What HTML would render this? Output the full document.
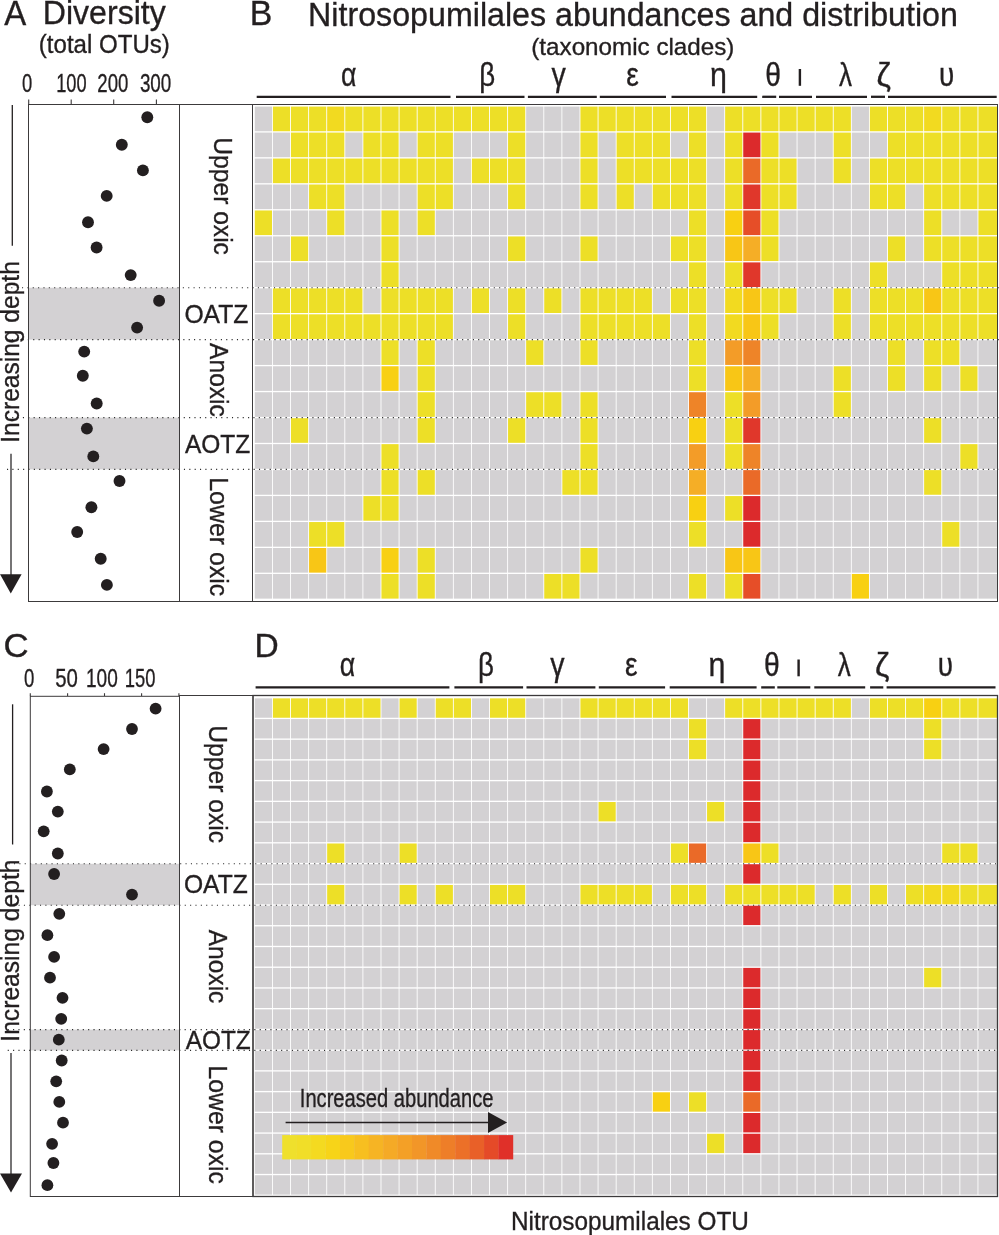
<!DOCTYPE html><html><head><meta charset="utf-8"><style>html,body{margin:0;padding:0;background:#fff;overflow:hidden;}svg{display:block;will-change:transform;}</style></head><body>
<svg width="999" height="1235" viewBox="0 0 999 1235" font-family="'Liberation Sans', sans-serif">
<rect width="999" height="1235" fill="#fff"/>
<text x="4.30" y="25.10" font-size="34.5" textLength="22.01" lengthAdjust="spacingAndGlyphs" fill="#231f20" stroke="#231f20" stroke-width="0.35">A</text>
<text x="42.80" y="24.00" font-size="34" textLength="122.96" lengthAdjust="spacingAndGlyphs" fill="#231f20" stroke="#231f20" stroke-width="0.35">Diversity</text>
<text x="38.80" y="52.80" font-size="25.3" textLength="131.02" lengthAdjust="spacingAndGlyphs" fill="#231f20" stroke="#231f20" stroke-width="0.35">(total OTUs)</text>
<text x="249.80" y="25.10" font-size="34.5" textLength="22.55" lengthAdjust="spacingAndGlyphs" fill="#231f20" stroke="#231f20" stroke-width="0.35">B</text>
<text x="308.10" y="25.80" font-size="34" textLength="649.81" lengthAdjust="spacingAndGlyphs" fill="#231f20" stroke="#231f20" stroke-width="0.35">Nitrosopumilales abundances and distribution</text>
<text x="531.30" y="54.50" font-size="24.3" textLength="203.10" lengthAdjust="spacingAndGlyphs" fill="#231f20" stroke="#231f20" stroke-width="0.35">(taxonomic clades)</text>
<line x1="256.7" y1="96.8" x2="450.5" y2="96.8" stroke="#231f20" stroke-width="2.3"/>
<line x1="456" y1="96.8" x2="524.5" y2="96.8" stroke="#231f20" stroke-width="2.3"/>
<line x1="527.9" y1="96.8" x2="596.8" y2="96.8" stroke="#231f20" stroke-width="2.3"/>
<line x1="599.8" y1="96.8" x2="666" y2="96.8" stroke="#231f20" stroke-width="2.3"/>
<line x1="671.5" y1="96.8" x2="757.2" y2="96.8" stroke="#231f20" stroke-width="2.3"/>
<line x1="762.2" y1="96.8" x2="776.2" y2="96.8" stroke="#231f20" stroke-width="2.3"/>
<line x1="779" y1="96.8" x2="812" y2="96.8" stroke="#231f20" stroke-width="2.3"/>
<line x1="816" y1="96.8" x2="867" y2="96.8" stroke="#231f20" stroke-width="2.3"/>
<line x1="871" y1="96.8" x2="885" y2="96.8" stroke="#231f20" stroke-width="2.3"/>
<line x1="888" y1="96.8" x2="996.7" y2="96.8" stroke="#231f20" stroke-width="2.3"/>
<text x="341.00" y="85.80" font-size="32.5" textLength="15.48" lengthAdjust="spacingAndGlyphs" fill="#231f20" stroke="#231f20" stroke-width="0.35">α</text>
<text x="479.20" y="85.80" font-size="32.5" textLength="15.93" lengthAdjust="spacingAndGlyphs" fill="#231f20" stroke="#231f20" stroke-width="0.35">β</text>
<text x="551.50" y="85.80" font-size="32.5" textLength="14.32" lengthAdjust="spacingAndGlyphs" fill="#231f20" stroke="#231f20" stroke-width="0.35">γ</text>
<text x="626.30" y="85.80" font-size="32.5" textLength="12.52" lengthAdjust="spacingAndGlyphs" fill="#231f20" stroke="#231f20" stroke-width="0.35">ε</text>
<text x="709.90" y="85.80" font-size="32.5" textLength="16.92" lengthAdjust="spacingAndGlyphs" fill="#231f20" stroke="#231f20" stroke-width="0.35">η</text>
<text x="765.20" y="85.80" font-size="32.5" textLength="15.67" lengthAdjust="spacingAndGlyphs" fill="#231f20" stroke="#231f20" stroke-width="0.35">θ</text>
<text x="839.00" y="85.80" font-size="32.5" textLength="13.00" lengthAdjust="spacingAndGlyphs" fill="#231f20" stroke="#231f20" stroke-width="0.35">λ</text>
<text x="876.40" y="85.80" font-size="32.5" textLength="14.34" lengthAdjust="spacingAndGlyphs" fill="#231f20" stroke="#231f20" stroke-width="0.35">ζ</text>
<text x="939.00" y="85.80" font-size="32.5" textLength="15.24" lengthAdjust="spacingAndGlyphs" fill="#231f20" stroke="#231f20" stroke-width="0.35">υ</text>
<rect x="798.70" y="69.00" width="2.4" height="16.8" fill="#231f20"/>
<rect x="28.7" y="287.7" width="150.5" height="51.9" fill="#d3d1d3"/>
<rect x="28.7" y="417.6" width="150.5" height="51.8" fill="#d3d1d3"/>
<rect x="254.80" y="106.60" width="17.20" height="24.65" fill="#d3d1d3"/>
<rect x="272.89" y="106.60" width="17.20" height="24.65" fill="#eddf27"/>
<rect x="290.98" y="106.60" width="17.20" height="24.65" fill="#eddf27"/>
<rect x="309.07" y="106.60" width="17.20" height="24.65" fill="#eddf27"/>
<rect x="327.16" y="106.60" width="17.20" height="24.65" fill="#f2da20"/>
<rect x="345.25" y="106.60" width="17.20" height="24.65" fill="#eddf27"/>
<rect x="363.34" y="106.60" width="17.20" height="24.65" fill="#eddf27"/>
<rect x="381.43" y="106.60" width="17.20" height="24.65" fill="#eddf27"/>
<rect x="399.52" y="106.60" width="17.20" height="24.65" fill="#eddf27"/>
<rect x="417.61" y="106.60" width="17.20" height="24.65" fill="#eddf27"/>
<rect x="435.70" y="106.60" width="17.20" height="24.65" fill="#eddf27"/>
<rect x="453.79" y="106.60" width="17.20" height="24.65" fill="#eddf27"/>
<rect x="471.88" y="106.60" width="17.20" height="24.65" fill="#eddf27"/>
<rect x="489.97" y="106.60" width="17.20" height="24.65" fill="#eddf27"/>
<rect x="508.06" y="106.60" width="17.20" height="24.65" fill="#eddf27"/>
<rect x="526.15" y="106.60" width="17.20" height="24.65" fill="#d3d1d3"/>
<rect x="544.24" y="106.60" width="17.20" height="24.65" fill="#d3d1d3"/>
<rect x="562.33" y="106.60" width="17.20" height="24.65" fill="#d3d1d3"/>
<rect x="580.42" y="106.60" width="17.20" height="24.65" fill="#eddf27"/>
<rect x="598.51" y="106.60" width="17.20" height="24.65" fill="#eddf27"/>
<rect x="616.60" y="106.60" width="17.20" height="24.65" fill="#eddf27"/>
<rect x="634.69" y="106.60" width="17.20" height="24.65" fill="#eddf27"/>
<rect x="652.78" y="106.60" width="17.20" height="24.65" fill="#eddf27"/>
<rect x="670.87" y="106.60" width="17.20" height="24.65" fill="#eddf27"/>
<rect x="688.96" y="106.60" width="17.20" height="24.65" fill="#eddf27"/>
<rect x="707.05" y="106.60" width="17.20" height="24.65" fill="#d3d1d3"/>
<rect x="725.14" y="106.60" width="17.20" height="24.65" fill="#eddf27"/>
<rect x="743.23" y="106.60" width="17.20" height="24.65" fill="#eddf27"/>
<rect x="761.32" y="106.60" width="17.20" height="24.65" fill="#eddf27"/>
<rect x="779.41" y="106.60" width="17.20" height="24.65" fill="#eddf27"/>
<rect x="797.50" y="106.60" width="17.20" height="24.65" fill="#eddf27"/>
<rect x="815.59" y="106.60" width="17.20" height="24.65" fill="#eddf27"/>
<rect x="833.68" y="106.60" width="17.20" height="24.65" fill="#eddf27"/>
<rect x="851.77" y="106.60" width="17.20" height="24.65" fill="#d3d1d3"/>
<rect x="869.86" y="106.60" width="17.20" height="24.65" fill="#eddf27"/>
<rect x="887.95" y="106.60" width="17.20" height="24.65" fill="#eddf27"/>
<rect x="906.04" y="106.60" width="17.20" height="24.65" fill="#eddf27"/>
<rect x="924.13" y="106.60" width="17.20" height="24.65" fill="#f2da20"/>
<rect x="942.22" y="106.60" width="17.20" height="24.65" fill="#eddf27"/>
<rect x="960.31" y="106.60" width="17.20" height="24.65" fill="#eddf27"/>
<rect x="978.40" y="106.60" width="18.80" height="24.65" fill="#eddf27"/>
<rect x="254.80" y="132.56" width="17.20" height="24.65" fill="#d3d1d3"/>
<rect x="272.89" y="132.56" width="17.20" height="24.65" fill="#d3d1d3"/>
<rect x="290.98" y="132.56" width="17.20" height="24.65" fill="#eddf27"/>
<rect x="309.07" y="132.56" width="17.20" height="24.65" fill="#eddf27"/>
<rect x="327.16" y="132.56" width="17.20" height="24.65" fill="#eddf27"/>
<rect x="345.25" y="132.56" width="17.20" height="24.65" fill="#d3d1d3"/>
<rect x="363.34" y="132.56" width="17.20" height="24.65" fill="#eddf27"/>
<rect x="381.43" y="132.56" width="17.20" height="24.65" fill="#eddf27"/>
<rect x="399.52" y="132.56" width="17.20" height="24.65" fill="#d3d1d3"/>
<rect x="417.61" y="132.56" width="17.20" height="24.65" fill="#eddf27"/>
<rect x="435.70" y="132.56" width="17.20" height="24.65" fill="#eddf27"/>
<rect x="453.79" y="132.56" width="17.20" height="24.65" fill="#d3d1d3"/>
<rect x="471.88" y="132.56" width="17.20" height="24.65" fill="#d3d1d3"/>
<rect x="489.97" y="132.56" width="17.20" height="24.65" fill="#d3d1d3"/>
<rect x="508.06" y="132.56" width="17.20" height="24.65" fill="#eddf27"/>
<rect x="526.15" y="132.56" width="17.20" height="24.65" fill="#d3d1d3"/>
<rect x="544.24" y="132.56" width="17.20" height="24.65" fill="#d3d1d3"/>
<rect x="562.33" y="132.56" width="17.20" height="24.65" fill="#d3d1d3"/>
<rect x="580.42" y="132.56" width="17.20" height="24.65" fill="#eddf27"/>
<rect x="598.51" y="132.56" width="17.20" height="24.65" fill="#d3d1d3"/>
<rect x="616.60" y="132.56" width="17.20" height="24.65" fill="#eddf27"/>
<rect x="634.69" y="132.56" width="17.20" height="24.65" fill="#eddf27"/>
<rect x="652.78" y="132.56" width="17.20" height="24.65" fill="#eddf27"/>
<rect x="670.87" y="132.56" width="17.20" height="24.65" fill="#d3d1d3"/>
<rect x="688.96" y="132.56" width="17.20" height="24.65" fill="#eddf27"/>
<rect x="707.05" y="132.56" width="17.20" height="24.65" fill="#d3d1d3"/>
<rect x="725.14" y="132.56" width="17.20" height="24.65" fill="#eddf27"/>
<rect x="743.23" y="132.56" width="17.20" height="24.65" fill="#dc2a2c"/>
<rect x="761.32" y="132.56" width="17.20" height="24.65" fill="#eddf27"/>
<rect x="779.41" y="132.56" width="17.20" height="24.65" fill="#d3d1d3"/>
<rect x="797.50" y="132.56" width="17.20" height="24.65" fill="#d3d1d3"/>
<rect x="815.59" y="132.56" width="17.20" height="24.65" fill="#d3d1d3"/>
<rect x="833.68" y="132.56" width="17.20" height="24.65" fill="#eddf27"/>
<rect x="851.77" y="132.56" width="17.20" height="24.65" fill="#d3d1d3"/>
<rect x="869.86" y="132.56" width="17.20" height="24.65" fill="#d3d1d3"/>
<rect x="887.95" y="132.56" width="17.20" height="24.65" fill="#eddf27"/>
<rect x="906.04" y="132.56" width="17.20" height="24.65" fill="#eddf27"/>
<rect x="924.13" y="132.56" width="17.20" height="24.65" fill="#eddf27"/>
<rect x="942.22" y="132.56" width="17.20" height="24.65" fill="#eddf27"/>
<rect x="960.31" y="132.56" width="17.20" height="24.65" fill="#eddf27"/>
<rect x="978.40" y="132.56" width="18.80" height="24.65" fill="#eddf27"/>
<rect x="254.80" y="158.53" width="17.20" height="24.65" fill="#d3d1d3"/>
<rect x="272.89" y="158.53" width="17.20" height="24.65" fill="#eddf27"/>
<rect x="290.98" y="158.53" width="17.20" height="24.65" fill="#eddf27"/>
<rect x="309.07" y="158.53" width="17.20" height="24.65" fill="#eddf27"/>
<rect x="327.16" y="158.53" width="17.20" height="24.65" fill="#eddf27"/>
<rect x="345.25" y="158.53" width="17.20" height="24.65" fill="#eddf27"/>
<rect x="363.34" y="158.53" width="17.20" height="24.65" fill="#eddf27"/>
<rect x="381.43" y="158.53" width="17.20" height="24.65" fill="#eddf27"/>
<rect x="399.52" y="158.53" width="17.20" height="24.65" fill="#eddf27"/>
<rect x="417.61" y="158.53" width="17.20" height="24.65" fill="#eddf27"/>
<rect x="435.70" y="158.53" width="17.20" height="24.65" fill="#eddf27"/>
<rect x="453.79" y="158.53" width="17.20" height="24.65" fill="#d3d1d3"/>
<rect x="471.88" y="158.53" width="17.20" height="24.65" fill="#eddf27"/>
<rect x="489.97" y="158.53" width="17.20" height="24.65" fill="#eddf27"/>
<rect x="508.06" y="158.53" width="17.20" height="24.65" fill="#eddf27"/>
<rect x="526.15" y="158.53" width="17.20" height="24.65" fill="#d3d1d3"/>
<rect x="544.24" y="158.53" width="17.20" height="24.65" fill="#d3d1d3"/>
<rect x="562.33" y="158.53" width="17.20" height="24.65" fill="#d3d1d3"/>
<rect x="580.42" y="158.53" width="17.20" height="24.65" fill="#eddf27"/>
<rect x="598.51" y="158.53" width="17.20" height="24.65" fill="#d3d1d3"/>
<rect x="616.60" y="158.53" width="17.20" height="24.65" fill="#eddf27"/>
<rect x="634.69" y="158.53" width="17.20" height="24.65" fill="#eddf27"/>
<rect x="652.78" y="158.53" width="17.20" height="24.65" fill="#eddf27"/>
<rect x="670.87" y="158.53" width="17.20" height="24.65" fill="#eddf27"/>
<rect x="688.96" y="158.53" width="17.20" height="24.65" fill="#eddf27"/>
<rect x="707.05" y="158.53" width="17.20" height="24.65" fill="#d3d1d3"/>
<rect x="725.14" y="158.53" width="17.20" height="24.65" fill="#eddf27"/>
<rect x="743.23" y="158.53" width="17.20" height="24.65" fill="#ea6a28"/>
<rect x="761.32" y="158.53" width="17.20" height="24.65" fill="#eddf27"/>
<rect x="779.41" y="158.53" width="17.20" height="24.65" fill="#eddf27"/>
<rect x="797.50" y="158.53" width="17.20" height="24.65" fill="#d3d1d3"/>
<rect x="815.59" y="158.53" width="17.20" height="24.65" fill="#d3d1d3"/>
<rect x="833.68" y="158.53" width="17.20" height="24.65" fill="#eddf27"/>
<rect x="851.77" y="158.53" width="17.20" height="24.65" fill="#d3d1d3"/>
<rect x="869.86" y="158.53" width="17.20" height="24.65" fill="#eddf27"/>
<rect x="887.95" y="158.53" width="17.20" height="24.65" fill="#eddf27"/>
<rect x="906.04" y="158.53" width="17.20" height="24.65" fill="#eddf27"/>
<rect x="924.13" y="158.53" width="17.20" height="24.65" fill="#eddf27"/>
<rect x="942.22" y="158.53" width="17.20" height="24.65" fill="#eddf27"/>
<rect x="960.31" y="158.53" width="17.20" height="24.65" fill="#eddf27"/>
<rect x="978.40" y="158.53" width="18.80" height="24.65" fill="#eddf27"/>
<rect x="254.80" y="184.50" width="17.20" height="24.65" fill="#d3d1d3"/>
<rect x="272.89" y="184.50" width="17.20" height="24.65" fill="#d3d1d3"/>
<rect x="290.98" y="184.50" width="17.20" height="24.65" fill="#d3d1d3"/>
<rect x="309.07" y="184.50" width="17.20" height="24.65" fill="#eddf27"/>
<rect x="327.16" y="184.50" width="17.20" height="24.65" fill="#eddf27"/>
<rect x="345.25" y="184.50" width="17.20" height="24.65" fill="#d3d1d3"/>
<rect x="363.34" y="184.50" width="17.20" height="24.65" fill="#d3d1d3"/>
<rect x="381.43" y="184.50" width="17.20" height="24.65" fill="#d3d1d3"/>
<rect x="399.52" y="184.50" width="17.20" height="24.65" fill="#d3d1d3"/>
<rect x="417.61" y="184.50" width="17.20" height="24.65" fill="#eddf27"/>
<rect x="435.70" y="184.50" width="17.20" height="24.65" fill="#eddf27"/>
<rect x="453.79" y="184.50" width="17.20" height="24.65" fill="#d3d1d3"/>
<rect x="471.88" y="184.50" width="17.20" height="24.65" fill="#d3d1d3"/>
<rect x="489.97" y="184.50" width="17.20" height="24.65" fill="#d3d1d3"/>
<rect x="508.06" y="184.50" width="17.20" height="24.65" fill="#eddf27"/>
<rect x="526.15" y="184.50" width="17.20" height="24.65" fill="#d3d1d3"/>
<rect x="544.24" y="184.50" width="17.20" height="24.65" fill="#d3d1d3"/>
<rect x="562.33" y="184.50" width="17.20" height="24.65" fill="#d3d1d3"/>
<rect x="580.42" y="184.50" width="17.20" height="24.65" fill="#eddf27"/>
<rect x="598.51" y="184.50" width="17.20" height="24.65" fill="#d3d1d3"/>
<rect x="616.60" y="184.50" width="17.20" height="24.65" fill="#eddf27"/>
<rect x="634.69" y="184.50" width="17.20" height="24.65" fill="#d3d1d3"/>
<rect x="652.78" y="184.50" width="17.20" height="24.65" fill="#eddf27"/>
<rect x="670.87" y="184.50" width="17.20" height="24.65" fill="#eddf27"/>
<rect x="688.96" y="184.50" width="17.20" height="24.65" fill="#eddf27"/>
<rect x="707.05" y="184.50" width="17.20" height="24.65" fill="#d3d1d3"/>
<rect x="725.14" y="184.50" width="17.20" height="24.65" fill="#eddf27"/>
<rect x="743.23" y="184.50" width="17.20" height="24.65" fill="#e0372b"/>
<rect x="761.32" y="184.50" width="17.20" height="24.65" fill="#eddf27"/>
<rect x="779.41" y="184.50" width="17.20" height="24.65" fill="#eddf27"/>
<rect x="797.50" y="184.50" width="17.20" height="24.65" fill="#d3d1d3"/>
<rect x="815.59" y="184.50" width="17.20" height="24.65" fill="#d3d1d3"/>
<rect x="833.68" y="184.50" width="17.20" height="24.65" fill="#d3d1d3"/>
<rect x="851.77" y="184.50" width="17.20" height="24.65" fill="#d3d1d3"/>
<rect x="869.86" y="184.50" width="17.20" height="24.65" fill="#eddf27"/>
<rect x="887.95" y="184.50" width="17.20" height="24.65" fill="#eddf27"/>
<rect x="906.04" y="184.50" width="17.20" height="24.65" fill="#d3d1d3"/>
<rect x="924.13" y="184.50" width="17.20" height="24.65" fill="#eddf27"/>
<rect x="942.22" y="184.50" width="17.20" height="24.65" fill="#eddf27"/>
<rect x="960.31" y="184.50" width="17.20" height="24.65" fill="#eddf27"/>
<rect x="978.40" y="184.50" width="18.80" height="24.65" fill="#eddf27"/>
<rect x="254.80" y="210.46" width="17.20" height="24.65" fill="#eddf27"/>
<rect x="272.89" y="210.46" width="17.20" height="24.65" fill="#d3d1d3"/>
<rect x="290.98" y="210.46" width="17.20" height="24.65" fill="#d3d1d3"/>
<rect x="309.07" y="210.46" width="17.20" height="24.65" fill="#d3d1d3"/>
<rect x="327.16" y="210.46" width="17.20" height="24.65" fill="#eddf27"/>
<rect x="345.25" y="210.46" width="17.20" height="24.65" fill="#d3d1d3"/>
<rect x="363.34" y="210.46" width="17.20" height="24.65" fill="#d3d1d3"/>
<rect x="381.43" y="210.46" width="17.20" height="24.65" fill="#eddf27"/>
<rect x="399.52" y="210.46" width="17.20" height="24.65" fill="#d3d1d3"/>
<rect x="417.61" y="210.46" width="17.20" height="24.65" fill="#eddf27"/>
<rect x="435.70" y="210.46" width="17.20" height="24.65" fill="#d3d1d3"/>
<rect x="453.79" y="210.46" width="17.20" height="24.65" fill="#d3d1d3"/>
<rect x="471.88" y="210.46" width="17.20" height="24.65" fill="#d3d1d3"/>
<rect x="489.97" y="210.46" width="17.20" height="24.65" fill="#d3d1d3"/>
<rect x="508.06" y="210.46" width="17.20" height="24.65" fill="#d3d1d3"/>
<rect x="526.15" y="210.46" width="17.20" height="24.65" fill="#d3d1d3"/>
<rect x="544.24" y="210.46" width="17.20" height="24.65" fill="#d3d1d3"/>
<rect x="562.33" y="210.46" width="17.20" height="24.65" fill="#d3d1d3"/>
<rect x="580.42" y="210.46" width="17.20" height="24.65" fill="#d3d1d3"/>
<rect x="598.51" y="210.46" width="17.20" height="24.65" fill="#d3d1d3"/>
<rect x="616.60" y="210.46" width="17.20" height="24.65" fill="#d3d1d3"/>
<rect x="634.69" y="210.46" width="17.20" height="24.65" fill="#d3d1d3"/>
<rect x="652.78" y="210.46" width="17.20" height="24.65" fill="#d3d1d3"/>
<rect x="670.87" y="210.46" width="17.20" height="24.65" fill="#d3d1d3"/>
<rect x="688.96" y="210.46" width="17.20" height="24.65" fill="#eddf27"/>
<rect x="707.05" y="210.46" width="17.20" height="24.65" fill="#d3d1d3"/>
<rect x="725.14" y="210.46" width="17.20" height="24.65" fill="#f8d012"/>
<rect x="743.23" y="210.46" width="17.20" height="24.65" fill="#e64e28"/>
<rect x="761.32" y="210.46" width="17.20" height="24.65" fill="#eddf27"/>
<rect x="779.41" y="210.46" width="17.20" height="24.65" fill="#d3d1d3"/>
<rect x="797.50" y="210.46" width="17.20" height="24.65" fill="#d3d1d3"/>
<rect x="815.59" y="210.46" width="17.20" height="24.65" fill="#d3d1d3"/>
<rect x="833.68" y="210.46" width="17.20" height="24.65" fill="#d3d1d3"/>
<rect x="851.77" y="210.46" width="17.20" height="24.65" fill="#d3d1d3"/>
<rect x="869.86" y="210.46" width="17.20" height="24.65" fill="#d3d1d3"/>
<rect x="887.95" y="210.46" width="17.20" height="24.65" fill="#d3d1d3"/>
<rect x="906.04" y="210.46" width="17.20" height="24.65" fill="#d3d1d3"/>
<rect x="924.13" y="210.46" width="17.20" height="24.65" fill="#eddf27"/>
<rect x="942.22" y="210.46" width="17.20" height="24.65" fill="#d3d1d3"/>
<rect x="960.31" y="210.46" width="17.20" height="24.65" fill="#d3d1d3"/>
<rect x="978.40" y="210.46" width="18.80" height="24.65" fill="#eddf27"/>
<rect x="254.80" y="236.42" width="17.20" height="24.65" fill="#d3d1d3"/>
<rect x="272.89" y="236.42" width="17.20" height="24.65" fill="#d3d1d3"/>
<rect x="290.98" y="236.42" width="17.20" height="24.65" fill="#eddf27"/>
<rect x="309.07" y="236.42" width="17.20" height="24.65" fill="#d3d1d3"/>
<rect x="327.16" y="236.42" width="17.20" height="24.65" fill="#d3d1d3"/>
<rect x="345.25" y="236.42" width="17.20" height="24.65" fill="#d3d1d3"/>
<rect x="363.34" y="236.42" width="17.20" height="24.65" fill="#d3d1d3"/>
<rect x="381.43" y="236.42" width="17.20" height="24.65" fill="#eddf27"/>
<rect x="399.52" y="236.42" width="17.20" height="24.65" fill="#d3d1d3"/>
<rect x="417.61" y="236.42" width="17.20" height="24.65" fill="#d3d1d3"/>
<rect x="435.70" y="236.42" width="17.20" height="24.65" fill="#d3d1d3"/>
<rect x="453.79" y="236.42" width="17.20" height="24.65" fill="#d3d1d3"/>
<rect x="471.88" y="236.42" width="17.20" height="24.65" fill="#d3d1d3"/>
<rect x="489.97" y="236.42" width="17.20" height="24.65" fill="#d3d1d3"/>
<rect x="508.06" y="236.42" width="17.20" height="24.65" fill="#eddf27"/>
<rect x="526.15" y="236.42" width="17.20" height="24.65" fill="#d3d1d3"/>
<rect x="544.24" y="236.42" width="17.20" height="24.65" fill="#d3d1d3"/>
<rect x="562.33" y="236.42" width="17.20" height="24.65" fill="#d3d1d3"/>
<rect x="580.42" y="236.42" width="17.20" height="24.65" fill="#eddf27"/>
<rect x="598.51" y="236.42" width="17.20" height="24.65" fill="#d3d1d3"/>
<rect x="616.60" y="236.42" width="17.20" height="24.65" fill="#d3d1d3"/>
<rect x="634.69" y="236.42" width="17.20" height="24.65" fill="#d3d1d3"/>
<rect x="652.78" y="236.42" width="17.20" height="24.65" fill="#d3d1d3"/>
<rect x="670.87" y="236.42" width="17.20" height="24.65" fill="#eddf27"/>
<rect x="688.96" y="236.42" width="17.20" height="24.65" fill="#eddf27"/>
<rect x="707.05" y="236.42" width="17.20" height="24.65" fill="#d3d1d3"/>
<rect x="725.14" y="236.42" width="17.20" height="24.65" fill="#f8c616"/>
<rect x="743.23" y="236.42" width="17.20" height="24.65" fill="#f5ae26"/>
<rect x="761.32" y="236.42" width="17.20" height="24.65" fill="#eddf27"/>
<rect x="779.41" y="236.42" width="17.20" height="24.65" fill="#d3d1d3"/>
<rect x="797.50" y="236.42" width="17.20" height="24.65" fill="#d3d1d3"/>
<rect x="815.59" y="236.42" width="17.20" height="24.65" fill="#d3d1d3"/>
<rect x="833.68" y="236.42" width="17.20" height="24.65" fill="#d3d1d3"/>
<rect x="851.77" y="236.42" width="17.20" height="24.65" fill="#d3d1d3"/>
<rect x="869.86" y="236.42" width="17.20" height="24.65" fill="#d3d1d3"/>
<rect x="887.95" y="236.42" width="17.20" height="24.65" fill="#eddf27"/>
<rect x="906.04" y="236.42" width="17.20" height="24.65" fill="#d3d1d3"/>
<rect x="924.13" y="236.42" width="17.20" height="24.65" fill="#eddf27"/>
<rect x="942.22" y="236.42" width="17.20" height="24.65" fill="#eddf27"/>
<rect x="960.31" y="236.42" width="17.20" height="24.65" fill="#eddf27"/>
<rect x="978.40" y="236.42" width="18.80" height="24.65" fill="#eddf27"/>
<rect x="254.80" y="262.39" width="17.20" height="24.65" fill="#d3d1d3"/>
<rect x="272.89" y="262.39" width="17.20" height="24.65" fill="#d3d1d3"/>
<rect x="290.98" y="262.39" width="17.20" height="24.65" fill="#d3d1d3"/>
<rect x="309.07" y="262.39" width="17.20" height="24.65" fill="#d3d1d3"/>
<rect x="327.16" y="262.39" width="17.20" height="24.65" fill="#d3d1d3"/>
<rect x="345.25" y="262.39" width="17.20" height="24.65" fill="#d3d1d3"/>
<rect x="363.34" y="262.39" width="17.20" height="24.65" fill="#d3d1d3"/>
<rect x="381.43" y="262.39" width="17.20" height="24.65" fill="#eddf27"/>
<rect x="399.52" y="262.39" width="17.20" height="24.65" fill="#d3d1d3"/>
<rect x="417.61" y="262.39" width="17.20" height="24.65" fill="#d3d1d3"/>
<rect x="435.70" y="262.39" width="17.20" height="24.65" fill="#d3d1d3"/>
<rect x="453.79" y="262.39" width="17.20" height="24.65" fill="#d3d1d3"/>
<rect x="471.88" y="262.39" width="17.20" height="24.65" fill="#d3d1d3"/>
<rect x="489.97" y="262.39" width="17.20" height="24.65" fill="#d3d1d3"/>
<rect x="508.06" y="262.39" width="17.20" height="24.65" fill="#d3d1d3"/>
<rect x="526.15" y="262.39" width="17.20" height="24.65" fill="#d3d1d3"/>
<rect x="544.24" y="262.39" width="17.20" height="24.65" fill="#d3d1d3"/>
<rect x="562.33" y="262.39" width="17.20" height="24.65" fill="#d3d1d3"/>
<rect x="580.42" y="262.39" width="17.20" height="24.65" fill="#d3d1d3"/>
<rect x="598.51" y="262.39" width="17.20" height="24.65" fill="#d3d1d3"/>
<rect x="616.60" y="262.39" width="17.20" height="24.65" fill="#d3d1d3"/>
<rect x="634.69" y="262.39" width="17.20" height="24.65" fill="#d3d1d3"/>
<rect x="652.78" y="262.39" width="17.20" height="24.65" fill="#d3d1d3"/>
<rect x="670.87" y="262.39" width="17.20" height="24.65" fill="#d3d1d3"/>
<rect x="688.96" y="262.39" width="17.20" height="24.65" fill="#eddf27"/>
<rect x="707.05" y="262.39" width="17.20" height="24.65" fill="#d3d1d3"/>
<rect x="725.14" y="262.39" width="17.20" height="24.65" fill="#eddf27"/>
<rect x="743.23" y="262.39" width="17.20" height="24.65" fill="#e0372b"/>
<rect x="761.32" y="262.39" width="17.20" height="24.65" fill="#d3d1d3"/>
<rect x="779.41" y="262.39" width="17.20" height="24.65" fill="#d3d1d3"/>
<rect x="797.50" y="262.39" width="17.20" height="24.65" fill="#d3d1d3"/>
<rect x="815.59" y="262.39" width="17.20" height="24.65" fill="#d3d1d3"/>
<rect x="833.68" y="262.39" width="17.20" height="24.65" fill="#d3d1d3"/>
<rect x="851.77" y="262.39" width="17.20" height="24.65" fill="#d3d1d3"/>
<rect x="869.86" y="262.39" width="17.20" height="24.65" fill="#eddf27"/>
<rect x="887.95" y="262.39" width="17.20" height="24.65" fill="#d3d1d3"/>
<rect x="906.04" y="262.39" width="17.20" height="24.65" fill="#d3d1d3"/>
<rect x="924.13" y="262.39" width="17.20" height="24.65" fill="#d3d1d3"/>
<rect x="942.22" y="262.39" width="17.20" height="24.65" fill="#eddf27"/>
<rect x="960.31" y="262.39" width="17.20" height="24.65" fill="#eddf27"/>
<rect x="978.40" y="262.39" width="18.80" height="24.65" fill="#eddf27"/>
<rect x="254.80" y="288.36" width="17.20" height="24.65" fill="#d3d1d3"/>
<rect x="272.89" y="288.36" width="17.20" height="24.65" fill="#eddf27"/>
<rect x="290.98" y="288.36" width="17.20" height="24.65" fill="#eddf27"/>
<rect x="309.07" y="288.36" width="17.20" height="24.65" fill="#eddf27"/>
<rect x="327.16" y="288.36" width="17.20" height="24.65" fill="#eddf27"/>
<rect x="345.25" y="288.36" width="17.20" height="24.65" fill="#eddf27"/>
<rect x="363.34" y="288.36" width="17.20" height="24.65" fill="#d3d1d3"/>
<rect x="381.43" y="288.36" width="17.20" height="24.65" fill="#eddf27"/>
<rect x="399.52" y="288.36" width="17.20" height="24.65" fill="#eddf27"/>
<rect x="417.61" y="288.36" width="17.20" height="24.65" fill="#eddf27"/>
<rect x="435.70" y="288.36" width="17.20" height="24.65" fill="#eddf27"/>
<rect x="453.79" y="288.36" width="17.20" height="24.65" fill="#d3d1d3"/>
<rect x="471.88" y="288.36" width="17.20" height="24.65" fill="#eddf27"/>
<rect x="489.97" y="288.36" width="17.20" height="24.65" fill="#d3d1d3"/>
<rect x="508.06" y="288.36" width="17.20" height="24.65" fill="#eddf27"/>
<rect x="526.15" y="288.36" width="17.20" height="24.65" fill="#d3d1d3"/>
<rect x="544.24" y="288.36" width="17.20" height="24.65" fill="#eddf27"/>
<rect x="562.33" y="288.36" width="17.20" height="24.65" fill="#d3d1d3"/>
<rect x="580.42" y="288.36" width="17.20" height="24.65" fill="#eddf27"/>
<rect x="598.51" y="288.36" width="17.20" height="24.65" fill="#eddf27"/>
<rect x="616.60" y="288.36" width="17.20" height="24.65" fill="#eddf27"/>
<rect x="634.69" y="288.36" width="17.20" height="24.65" fill="#eddf27"/>
<rect x="652.78" y="288.36" width="17.20" height="24.65" fill="#d3d1d3"/>
<rect x="670.87" y="288.36" width="17.20" height="24.65" fill="#eddf27"/>
<rect x="688.96" y="288.36" width="17.20" height="24.65" fill="#eddf27"/>
<rect x="707.05" y="288.36" width="17.20" height="24.65" fill="#d3d1d3"/>
<rect x="725.14" y="288.36" width="17.20" height="24.65" fill="#f2da20"/>
<rect x="743.23" y="288.36" width="17.20" height="24.65" fill="#f8c616"/>
<rect x="761.32" y="288.36" width="17.20" height="24.65" fill="#eddf27"/>
<rect x="779.41" y="288.36" width="17.20" height="24.65" fill="#eddf27"/>
<rect x="797.50" y="288.36" width="17.20" height="24.65" fill="#d3d1d3"/>
<rect x="815.59" y="288.36" width="17.20" height="24.65" fill="#d3d1d3"/>
<rect x="833.68" y="288.36" width="17.20" height="24.65" fill="#eddf27"/>
<rect x="851.77" y="288.36" width="17.20" height="24.65" fill="#d3d1d3"/>
<rect x="869.86" y="288.36" width="17.20" height="24.65" fill="#eddf27"/>
<rect x="887.95" y="288.36" width="17.20" height="24.65" fill="#eddf27"/>
<rect x="906.04" y="288.36" width="17.20" height="24.65" fill="#eddf27"/>
<rect x="924.13" y="288.36" width="17.20" height="24.65" fill="#f8c616"/>
<rect x="942.22" y="288.36" width="17.20" height="24.65" fill="#eddf27"/>
<rect x="960.31" y="288.36" width="17.20" height="24.65" fill="#eddf27"/>
<rect x="978.40" y="288.36" width="18.80" height="24.65" fill="#eddf27"/>
<rect x="254.80" y="314.32" width="17.20" height="24.65" fill="#d3d1d3"/>
<rect x="272.89" y="314.32" width="17.20" height="24.65" fill="#eddf27"/>
<rect x="290.98" y="314.32" width="17.20" height="24.65" fill="#eddf27"/>
<rect x="309.07" y="314.32" width="17.20" height="24.65" fill="#eddf27"/>
<rect x="327.16" y="314.32" width="17.20" height="24.65" fill="#eddf27"/>
<rect x="345.25" y="314.32" width="17.20" height="24.65" fill="#eddf27"/>
<rect x="363.34" y="314.32" width="17.20" height="24.65" fill="#eddf27"/>
<rect x="381.43" y="314.32" width="17.20" height="24.65" fill="#eddf27"/>
<rect x="399.52" y="314.32" width="17.20" height="24.65" fill="#eddf27"/>
<rect x="417.61" y="314.32" width="17.20" height="24.65" fill="#eddf27"/>
<rect x="435.70" y="314.32" width="17.20" height="24.65" fill="#eddf27"/>
<rect x="453.79" y="314.32" width="17.20" height="24.65" fill="#d3d1d3"/>
<rect x="471.88" y="314.32" width="17.20" height="24.65" fill="#d3d1d3"/>
<rect x="489.97" y="314.32" width="17.20" height="24.65" fill="#d3d1d3"/>
<rect x="508.06" y="314.32" width="17.20" height="24.65" fill="#eddf27"/>
<rect x="526.15" y="314.32" width="17.20" height="24.65" fill="#d3d1d3"/>
<rect x="544.24" y="314.32" width="17.20" height="24.65" fill="#d3d1d3"/>
<rect x="562.33" y="314.32" width="17.20" height="24.65" fill="#d3d1d3"/>
<rect x="580.42" y="314.32" width="17.20" height="24.65" fill="#eddf27"/>
<rect x="598.51" y="314.32" width="17.20" height="24.65" fill="#eddf27"/>
<rect x="616.60" y="314.32" width="17.20" height="24.65" fill="#eddf27"/>
<rect x="634.69" y="314.32" width="17.20" height="24.65" fill="#eddf27"/>
<rect x="652.78" y="314.32" width="17.20" height="24.65" fill="#eddf27"/>
<rect x="670.87" y="314.32" width="17.20" height="24.65" fill="#d3d1d3"/>
<rect x="688.96" y="314.32" width="17.20" height="24.65" fill="#eddf27"/>
<rect x="707.05" y="314.32" width="17.20" height="24.65" fill="#d3d1d3"/>
<rect x="725.14" y="314.32" width="17.20" height="24.65" fill="#f2da20"/>
<rect x="743.23" y="314.32" width="17.20" height="24.65" fill="#f8c616"/>
<rect x="761.32" y="314.32" width="17.20" height="24.65" fill="#eddf27"/>
<rect x="779.41" y="314.32" width="17.20" height="24.65" fill="#d3d1d3"/>
<rect x="797.50" y="314.32" width="17.20" height="24.65" fill="#d3d1d3"/>
<rect x="815.59" y="314.32" width="17.20" height="24.65" fill="#d3d1d3"/>
<rect x="833.68" y="314.32" width="17.20" height="24.65" fill="#eddf27"/>
<rect x="851.77" y="314.32" width="17.20" height="24.65" fill="#d3d1d3"/>
<rect x="869.86" y="314.32" width="17.20" height="24.65" fill="#eddf27"/>
<rect x="887.95" y="314.32" width="17.20" height="24.65" fill="#eddf27"/>
<rect x="906.04" y="314.32" width="17.20" height="24.65" fill="#eddf27"/>
<rect x="924.13" y="314.32" width="17.20" height="24.65" fill="#eddf27"/>
<rect x="942.22" y="314.32" width="17.20" height="24.65" fill="#eddf27"/>
<rect x="960.31" y="314.32" width="17.20" height="24.65" fill="#eddf27"/>
<rect x="978.40" y="314.32" width="18.80" height="24.65" fill="#eddf27"/>
<rect x="254.80" y="340.28" width="17.20" height="24.65" fill="#d3d1d3"/>
<rect x="272.89" y="340.28" width="17.20" height="24.65" fill="#d3d1d3"/>
<rect x="290.98" y="340.28" width="17.20" height="24.65" fill="#d3d1d3"/>
<rect x="309.07" y="340.28" width="17.20" height="24.65" fill="#d3d1d3"/>
<rect x="327.16" y="340.28" width="17.20" height="24.65" fill="#d3d1d3"/>
<rect x="345.25" y="340.28" width="17.20" height="24.65" fill="#d3d1d3"/>
<rect x="363.34" y="340.28" width="17.20" height="24.65" fill="#d3d1d3"/>
<rect x="381.43" y="340.28" width="17.20" height="24.65" fill="#eddf27"/>
<rect x="399.52" y="340.28" width="17.20" height="24.65" fill="#d3d1d3"/>
<rect x="417.61" y="340.28" width="17.20" height="24.65" fill="#eddf27"/>
<rect x="435.70" y="340.28" width="17.20" height="24.65" fill="#d3d1d3"/>
<rect x="453.79" y="340.28" width="17.20" height="24.65" fill="#d3d1d3"/>
<rect x="471.88" y="340.28" width="17.20" height="24.65" fill="#d3d1d3"/>
<rect x="489.97" y="340.28" width="17.20" height="24.65" fill="#d3d1d3"/>
<rect x="508.06" y="340.28" width="17.20" height="24.65" fill="#d3d1d3"/>
<rect x="526.15" y="340.28" width="17.20" height="24.65" fill="#eddf27"/>
<rect x="544.24" y="340.28" width="17.20" height="24.65" fill="#d3d1d3"/>
<rect x="562.33" y="340.28" width="17.20" height="24.65" fill="#d3d1d3"/>
<rect x="580.42" y="340.28" width="17.20" height="24.65" fill="#eddf27"/>
<rect x="598.51" y="340.28" width="17.20" height="24.65" fill="#d3d1d3"/>
<rect x="616.60" y="340.28" width="17.20" height="24.65" fill="#d3d1d3"/>
<rect x="634.69" y="340.28" width="17.20" height="24.65" fill="#d3d1d3"/>
<rect x="652.78" y="340.28" width="17.20" height="24.65" fill="#d3d1d3"/>
<rect x="670.87" y="340.28" width="17.20" height="24.65" fill="#d3d1d3"/>
<rect x="688.96" y="340.28" width="17.20" height="24.65" fill="#eddf27"/>
<rect x="707.05" y="340.28" width="17.20" height="24.65" fill="#d3d1d3"/>
<rect x="725.14" y="340.28" width="17.20" height="24.65" fill="#f39c28"/>
<rect x="743.23" y="340.28" width="17.20" height="24.65" fill="#ee8428"/>
<rect x="761.32" y="340.28" width="17.20" height="24.65" fill="#d3d1d3"/>
<rect x="779.41" y="340.28" width="17.20" height="24.65" fill="#d3d1d3"/>
<rect x="797.50" y="340.28" width="17.20" height="24.65" fill="#d3d1d3"/>
<rect x="815.59" y="340.28" width="17.20" height="24.65" fill="#d3d1d3"/>
<rect x="833.68" y="340.28" width="17.20" height="24.65" fill="#d3d1d3"/>
<rect x="851.77" y="340.28" width="17.20" height="24.65" fill="#d3d1d3"/>
<rect x="869.86" y="340.28" width="17.20" height="24.65" fill="#d3d1d3"/>
<rect x="887.95" y="340.28" width="17.20" height="24.65" fill="#eddf27"/>
<rect x="906.04" y="340.28" width="17.20" height="24.65" fill="#d3d1d3"/>
<rect x="924.13" y="340.28" width="17.20" height="24.65" fill="#eddf27"/>
<rect x="942.22" y="340.28" width="17.20" height="24.65" fill="#eddf27"/>
<rect x="960.31" y="340.28" width="17.20" height="24.65" fill="#d3d1d3"/>
<rect x="978.40" y="340.28" width="18.80" height="24.65" fill="#d3d1d3"/>
<rect x="254.80" y="366.25" width="17.20" height="24.65" fill="#d3d1d3"/>
<rect x="272.89" y="366.25" width="17.20" height="24.65" fill="#d3d1d3"/>
<rect x="290.98" y="366.25" width="17.20" height="24.65" fill="#d3d1d3"/>
<rect x="309.07" y="366.25" width="17.20" height="24.65" fill="#d3d1d3"/>
<rect x="327.16" y="366.25" width="17.20" height="24.65" fill="#d3d1d3"/>
<rect x="345.25" y="366.25" width="17.20" height="24.65" fill="#d3d1d3"/>
<rect x="363.34" y="366.25" width="17.20" height="24.65" fill="#d3d1d3"/>
<rect x="381.43" y="366.25" width="17.20" height="24.65" fill="#f8d012"/>
<rect x="399.52" y="366.25" width="17.20" height="24.65" fill="#d3d1d3"/>
<rect x="417.61" y="366.25" width="17.20" height="24.65" fill="#eddf27"/>
<rect x="435.70" y="366.25" width="17.20" height="24.65" fill="#d3d1d3"/>
<rect x="453.79" y="366.25" width="17.20" height="24.65" fill="#d3d1d3"/>
<rect x="471.88" y="366.25" width="17.20" height="24.65" fill="#d3d1d3"/>
<rect x="489.97" y="366.25" width="17.20" height="24.65" fill="#d3d1d3"/>
<rect x="508.06" y="366.25" width="17.20" height="24.65" fill="#d3d1d3"/>
<rect x="526.15" y="366.25" width="17.20" height="24.65" fill="#d3d1d3"/>
<rect x="544.24" y="366.25" width="17.20" height="24.65" fill="#d3d1d3"/>
<rect x="562.33" y="366.25" width="17.20" height="24.65" fill="#d3d1d3"/>
<rect x="580.42" y="366.25" width="17.20" height="24.65" fill="#d3d1d3"/>
<rect x="598.51" y="366.25" width="17.20" height="24.65" fill="#d3d1d3"/>
<rect x="616.60" y="366.25" width="17.20" height="24.65" fill="#d3d1d3"/>
<rect x="634.69" y="366.25" width="17.20" height="24.65" fill="#d3d1d3"/>
<rect x="652.78" y="366.25" width="17.20" height="24.65" fill="#d3d1d3"/>
<rect x="670.87" y="366.25" width="17.20" height="24.65" fill="#d3d1d3"/>
<rect x="688.96" y="366.25" width="17.20" height="24.65" fill="#eddf27"/>
<rect x="707.05" y="366.25" width="17.20" height="24.65" fill="#d3d1d3"/>
<rect x="725.14" y="366.25" width="17.20" height="24.65" fill="#f8c616"/>
<rect x="743.23" y="366.25" width="17.20" height="24.65" fill="#f5ae26"/>
<rect x="761.32" y="366.25" width="17.20" height="24.65" fill="#d3d1d3"/>
<rect x="779.41" y="366.25" width="17.20" height="24.65" fill="#d3d1d3"/>
<rect x="797.50" y="366.25" width="17.20" height="24.65" fill="#d3d1d3"/>
<rect x="815.59" y="366.25" width="17.20" height="24.65" fill="#d3d1d3"/>
<rect x="833.68" y="366.25" width="17.20" height="24.65" fill="#eddf27"/>
<rect x="851.77" y="366.25" width="17.20" height="24.65" fill="#d3d1d3"/>
<rect x="869.86" y="366.25" width="17.20" height="24.65" fill="#d3d1d3"/>
<rect x="887.95" y="366.25" width="17.20" height="24.65" fill="#eddf27"/>
<rect x="906.04" y="366.25" width="17.20" height="24.65" fill="#d3d1d3"/>
<rect x="924.13" y="366.25" width="17.20" height="24.65" fill="#eddf27"/>
<rect x="942.22" y="366.25" width="17.20" height="24.65" fill="#d3d1d3"/>
<rect x="960.31" y="366.25" width="17.20" height="24.65" fill="#eddf27"/>
<rect x="978.40" y="366.25" width="18.80" height="24.65" fill="#d3d1d3"/>
<rect x="254.80" y="392.22" width="17.20" height="24.65" fill="#d3d1d3"/>
<rect x="272.89" y="392.22" width="17.20" height="24.65" fill="#d3d1d3"/>
<rect x="290.98" y="392.22" width="17.20" height="24.65" fill="#d3d1d3"/>
<rect x="309.07" y="392.22" width="17.20" height="24.65" fill="#d3d1d3"/>
<rect x="327.16" y="392.22" width="17.20" height="24.65" fill="#d3d1d3"/>
<rect x="345.25" y="392.22" width="17.20" height="24.65" fill="#d3d1d3"/>
<rect x="363.34" y="392.22" width="17.20" height="24.65" fill="#d3d1d3"/>
<rect x="381.43" y="392.22" width="17.20" height="24.65" fill="#d3d1d3"/>
<rect x="399.52" y="392.22" width="17.20" height="24.65" fill="#d3d1d3"/>
<rect x="417.61" y="392.22" width="17.20" height="24.65" fill="#eddf27"/>
<rect x="435.70" y="392.22" width="17.20" height="24.65" fill="#d3d1d3"/>
<rect x="453.79" y="392.22" width="17.20" height="24.65" fill="#d3d1d3"/>
<rect x="471.88" y="392.22" width="17.20" height="24.65" fill="#d3d1d3"/>
<rect x="489.97" y="392.22" width="17.20" height="24.65" fill="#d3d1d3"/>
<rect x="508.06" y="392.22" width="17.20" height="24.65" fill="#d3d1d3"/>
<rect x="526.15" y="392.22" width="17.20" height="24.65" fill="#eddf27"/>
<rect x="544.24" y="392.22" width="17.20" height="24.65" fill="#eddf27"/>
<rect x="562.33" y="392.22" width="17.20" height="24.65" fill="#d3d1d3"/>
<rect x="580.42" y="392.22" width="17.20" height="24.65" fill="#eddf27"/>
<rect x="598.51" y="392.22" width="17.20" height="24.65" fill="#d3d1d3"/>
<rect x="616.60" y="392.22" width="17.20" height="24.65" fill="#d3d1d3"/>
<rect x="634.69" y="392.22" width="17.20" height="24.65" fill="#d3d1d3"/>
<rect x="652.78" y="392.22" width="17.20" height="24.65" fill="#d3d1d3"/>
<rect x="670.87" y="392.22" width="17.20" height="24.65" fill="#d3d1d3"/>
<rect x="688.96" y="392.22" width="17.20" height="24.65" fill="#ee8428"/>
<rect x="707.05" y="392.22" width="17.20" height="24.65" fill="#d3d1d3"/>
<rect x="725.14" y="392.22" width="17.20" height="24.65" fill="#eddf27"/>
<rect x="743.23" y="392.22" width="17.20" height="24.65" fill="#f39c28"/>
<rect x="761.32" y="392.22" width="17.20" height="24.65" fill="#d3d1d3"/>
<rect x="779.41" y="392.22" width="17.20" height="24.65" fill="#d3d1d3"/>
<rect x="797.50" y="392.22" width="17.20" height="24.65" fill="#d3d1d3"/>
<rect x="815.59" y="392.22" width="17.20" height="24.65" fill="#d3d1d3"/>
<rect x="833.68" y="392.22" width="17.20" height="24.65" fill="#eddf27"/>
<rect x="851.77" y="392.22" width="17.20" height="24.65" fill="#d3d1d3"/>
<rect x="869.86" y="392.22" width="17.20" height="24.65" fill="#d3d1d3"/>
<rect x="887.95" y="392.22" width="17.20" height="24.65" fill="#d3d1d3"/>
<rect x="906.04" y="392.22" width="17.20" height="24.65" fill="#d3d1d3"/>
<rect x="924.13" y="392.22" width="17.20" height="24.65" fill="#d3d1d3"/>
<rect x="942.22" y="392.22" width="17.20" height="24.65" fill="#d3d1d3"/>
<rect x="960.31" y="392.22" width="17.20" height="24.65" fill="#d3d1d3"/>
<rect x="978.40" y="392.22" width="18.80" height="24.65" fill="#d3d1d3"/>
<rect x="254.80" y="418.18" width="17.20" height="24.65" fill="#d3d1d3"/>
<rect x="272.89" y="418.18" width="17.20" height="24.65" fill="#d3d1d3"/>
<rect x="290.98" y="418.18" width="17.20" height="24.65" fill="#eddf27"/>
<rect x="309.07" y="418.18" width="17.20" height="24.65" fill="#d3d1d3"/>
<rect x="327.16" y="418.18" width="17.20" height="24.65" fill="#d3d1d3"/>
<rect x="345.25" y="418.18" width="17.20" height="24.65" fill="#d3d1d3"/>
<rect x="363.34" y="418.18" width="17.20" height="24.65" fill="#d3d1d3"/>
<rect x="381.43" y="418.18" width="17.20" height="24.65" fill="#d3d1d3"/>
<rect x="399.52" y="418.18" width="17.20" height="24.65" fill="#d3d1d3"/>
<rect x="417.61" y="418.18" width="17.20" height="24.65" fill="#eddf27"/>
<rect x="435.70" y="418.18" width="17.20" height="24.65" fill="#d3d1d3"/>
<rect x="453.79" y="418.18" width="17.20" height="24.65" fill="#d3d1d3"/>
<rect x="471.88" y="418.18" width="17.20" height="24.65" fill="#d3d1d3"/>
<rect x="489.97" y="418.18" width="17.20" height="24.65" fill="#d3d1d3"/>
<rect x="508.06" y="418.18" width="17.20" height="24.65" fill="#eddf27"/>
<rect x="526.15" y="418.18" width="17.20" height="24.65" fill="#d3d1d3"/>
<rect x="544.24" y="418.18" width="17.20" height="24.65" fill="#d3d1d3"/>
<rect x="562.33" y="418.18" width="17.20" height="24.65" fill="#d3d1d3"/>
<rect x="580.42" y="418.18" width="17.20" height="24.65" fill="#eddf27"/>
<rect x="598.51" y="418.18" width="17.20" height="24.65" fill="#d3d1d3"/>
<rect x="616.60" y="418.18" width="17.20" height="24.65" fill="#d3d1d3"/>
<rect x="634.69" y="418.18" width="17.20" height="24.65" fill="#d3d1d3"/>
<rect x="652.78" y="418.18" width="17.20" height="24.65" fill="#d3d1d3"/>
<rect x="670.87" y="418.18" width="17.20" height="24.65" fill="#d3d1d3"/>
<rect x="688.96" y="418.18" width="17.20" height="24.65" fill="#f8d012"/>
<rect x="707.05" y="418.18" width="17.20" height="24.65" fill="#d3d1d3"/>
<rect x="725.14" y="418.18" width="17.20" height="24.65" fill="#eddf27"/>
<rect x="743.23" y="418.18" width="17.20" height="24.65" fill="#e0372b"/>
<rect x="761.32" y="418.18" width="17.20" height="24.65" fill="#d3d1d3"/>
<rect x="779.41" y="418.18" width="17.20" height="24.65" fill="#d3d1d3"/>
<rect x="797.50" y="418.18" width="17.20" height="24.65" fill="#d3d1d3"/>
<rect x="815.59" y="418.18" width="17.20" height="24.65" fill="#d3d1d3"/>
<rect x="833.68" y="418.18" width="17.20" height="24.65" fill="#d3d1d3"/>
<rect x="851.77" y="418.18" width="17.20" height="24.65" fill="#d3d1d3"/>
<rect x="869.86" y="418.18" width="17.20" height="24.65" fill="#d3d1d3"/>
<rect x="887.95" y="418.18" width="17.20" height="24.65" fill="#d3d1d3"/>
<rect x="906.04" y="418.18" width="17.20" height="24.65" fill="#d3d1d3"/>
<rect x="924.13" y="418.18" width="17.20" height="24.65" fill="#eddf27"/>
<rect x="942.22" y="418.18" width="17.20" height="24.65" fill="#d3d1d3"/>
<rect x="960.31" y="418.18" width="17.20" height="24.65" fill="#d3d1d3"/>
<rect x="978.40" y="418.18" width="18.80" height="24.65" fill="#d3d1d3"/>
<rect x="254.80" y="444.14" width="17.20" height="24.65" fill="#d3d1d3"/>
<rect x="272.89" y="444.14" width="17.20" height="24.65" fill="#d3d1d3"/>
<rect x="290.98" y="444.14" width="17.20" height="24.65" fill="#d3d1d3"/>
<rect x="309.07" y="444.14" width="17.20" height="24.65" fill="#d3d1d3"/>
<rect x="327.16" y="444.14" width="17.20" height="24.65" fill="#d3d1d3"/>
<rect x="345.25" y="444.14" width="17.20" height="24.65" fill="#d3d1d3"/>
<rect x="363.34" y="444.14" width="17.20" height="24.65" fill="#d3d1d3"/>
<rect x="381.43" y="444.14" width="17.20" height="24.65" fill="#eddf27"/>
<rect x="399.52" y="444.14" width="17.20" height="24.65" fill="#d3d1d3"/>
<rect x="417.61" y="444.14" width="17.20" height="24.65" fill="#d3d1d3"/>
<rect x="435.70" y="444.14" width="17.20" height="24.65" fill="#d3d1d3"/>
<rect x="453.79" y="444.14" width="17.20" height="24.65" fill="#d3d1d3"/>
<rect x="471.88" y="444.14" width="17.20" height="24.65" fill="#d3d1d3"/>
<rect x="489.97" y="444.14" width="17.20" height="24.65" fill="#d3d1d3"/>
<rect x="508.06" y="444.14" width="17.20" height="24.65" fill="#d3d1d3"/>
<rect x="526.15" y="444.14" width="17.20" height="24.65" fill="#d3d1d3"/>
<rect x="544.24" y="444.14" width="17.20" height="24.65" fill="#d3d1d3"/>
<rect x="562.33" y="444.14" width="17.20" height="24.65" fill="#d3d1d3"/>
<rect x="580.42" y="444.14" width="17.20" height="24.65" fill="#eddf27"/>
<rect x="598.51" y="444.14" width="17.20" height="24.65" fill="#d3d1d3"/>
<rect x="616.60" y="444.14" width="17.20" height="24.65" fill="#d3d1d3"/>
<rect x="634.69" y="444.14" width="17.20" height="24.65" fill="#d3d1d3"/>
<rect x="652.78" y="444.14" width="17.20" height="24.65" fill="#d3d1d3"/>
<rect x="670.87" y="444.14" width="17.20" height="24.65" fill="#d3d1d3"/>
<rect x="688.96" y="444.14" width="17.20" height="24.65" fill="#f39c28"/>
<rect x="707.05" y="444.14" width="17.20" height="24.65" fill="#d3d1d3"/>
<rect x="725.14" y="444.14" width="17.20" height="24.65" fill="#eddf27"/>
<rect x="743.23" y="444.14" width="17.20" height="24.65" fill="#ee8428"/>
<rect x="761.32" y="444.14" width="17.20" height="24.65" fill="#d3d1d3"/>
<rect x="779.41" y="444.14" width="17.20" height="24.65" fill="#d3d1d3"/>
<rect x="797.50" y="444.14" width="17.20" height="24.65" fill="#d3d1d3"/>
<rect x="815.59" y="444.14" width="17.20" height="24.65" fill="#d3d1d3"/>
<rect x="833.68" y="444.14" width="17.20" height="24.65" fill="#d3d1d3"/>
<rect x="851.77" y="444.14" width="17.20" height="24.65" fill="#d3d1d3"/>
<rect x="869.86" y="444.14" width="17.20" height="24.65" fill="#d3d1d3"/>
<rect x="887.95" y="444.14" width="17.20" height="24.65" fill="#d3d1d3"/>
<rect x="906.04" y="444.14" width="17.20" height="24.65" fill="#d3d1d3"/>
<rect x="924.13" y="444.14" width="17.20" height="24.65" fill="#d3d1d3"/>
<rect x="942.22" y="444.14" width="17.20" height="24.65" fill="#d3d1d3"/>
<rect x="960.31" y="444.14" width="17.20" height="24.65" fill="#eddf27"/>
<rect x="978.40" y="444.14" width="18.80" height="24.65" fill="#d3d1d3"/>
<rect x="254.80" y="470.11" width="17.20" height="24.65" fill="#d3d1d3"/>
<rect x="272.89" y="470.11" width="17.20" height="24.65" fill="#d3d1d3"/>
<rect x="290.98" y="470.11" width="17.20" height="24.65" fill="#d3d1d3"/>
<rect x="309.07" y="470.11" width="17.20" height="24.65" fill="#d3d1d3"/>
<rect x="327.16" y="470.11" width="17.20" height="24.65" fill="#d3d1d3"/>
<rect x="345.25" y="470.11" width="17.20" height="24.65" fill="#d3d1d3"/>
<rect x="363.34" y="470.11" width="17.20" height="24.65" fill="#d3d1d3"/>
<rect x="381.43" y="470.11" width="17.20" height="24.65" fill="#eddf27"/>
<rect x="399.52" y="470.11" width="17.20" height="24.65" fill="#d3d1d3"/>
<rect x="417.61" y="470.11" width="17.20" height="24.65" fill="#eddf27"/>
<rect x="435.70" y="470.11" width="17.20" height="24.65" fill="#d3d1d3"/>
<rect x="453.79" y="470.11" width="17.20" height="24.65" fill="#d3d1d3"/>
<rect x="471.88" y="470.11" width="17.20" height="24.65" fill="#d3d1d3"/>
<rect x="489.97" y="470.11" width="17.20" height="24.65" fill="#d3d1d3"/>
<rect x="508.06" y="470.11" width="17.20" height="24.65" fill="#d3d1d3"/>
<rect x="526.15" y="470.11" width="17.20" height="24.65" fill="#d3d1d3"/>
<rect x="544.24" y="470.11" width="17.20" height="24.65" fill="#d3d1d3"/>
<rect x="562.33" y="470.11" width="17.20" height="24.65" fill="#eddf27"/>
<rect x="580.42" y="470.11" width="17.20" height="24.65" fill="#eddf27"/>
<rect x="598.51" y="470.11" width="17.20" height="24.65" fill="#d3d1d3"/>
<rect x="616.60" y="470.11" width="17.20" height="24.65" fill="#d3d1d3"/>
<rect x="634.69" y="470.11" width="17.20" height="24.65" fill="#d3d1d3"/>
<rect x="652.78" y="470.11" width="17.20" height="24.65" fill="#d3d1d3"/>
<rect x="670.87" y="470.11" width="17.20" height="24.65" fill="#d3d1d3"/>
<rect x="688.96" y="470.11" width="17.20" height="24.65" fill="#f5ae26"/>
<rect x="707.05" y="470.11" width="17.20" height="24.65" fill="#d3d1d3"/>
<rect x="725.14" y="470.11" width="17.20" height="24.65" fill="#d3d1d3"/>
<rect x="743.23" y="470.11" width="17.20" height="24.65" fill="#ea6a28"/>
<rect x="761.32" y="470.11" width="17.20" height="24.65" fill="#d3d1d3"/>
<rect x="779.41" y="470.11" width="17.20" height="24.65" fill="#d3d1d3"/>
<rect x="797.50" y="470.11" width="17.20" height="24.65" fill="#d3d1d3"/>
<rect x="815.59" y="470.11" width="17.20" height="24.65" fill="#d3d1d3"/>
<rect x="833.68" y="470.11" width="17.20" height="24.65" fill="#d3d1d3"/>
<rect x="851.77" y="470.11" width="17.20" height="24.65" fill="#d3d1d3"/>
<rect x="869.86" y="470.11" width="17.20" height="24.65" fill="#d3d1d3"/>
<rect x="887.95" y="470.11" width="17.20" height="24.65" fill="#d3d1d3"/>
<rect x="906.04" y="470.11" width="17.20" height="24.65" fill="#d3d1d3"/>
<rect x="924.13" y="470.11" width="17.20" height="24.65" fill="#eddf27"/>
<rect x="942.22" y="470.11" width="17.20" height="24.65" fill="#d3d1d3"/>
<rect x="960.31" y="470.11" width="17.20" height="24.65" fill="#d3d1d3"/>
<rect x="978.40" y="470.11" width="18.80" height="24.65" fill="#d3d1d3"/>
<rect x="254.80" y="496.08" width="17.20" height="24.65" fill="#d3d1d3"/>
<rect x="272.89" y="496.08" width="17.20" height="24.65" fill="#d3d1d3"/>
<rect x="290.98" y="496.08" width="17.20" height="24.65" fill="#d3d1d3"/>
<rect x="309.07" y="496.08" width="17.20" height="24.65" fill="#d3d1d3"/>
<rect x="327.16" y="496.08" width="17.20" height="24.65" fill="#d3d1d3"/>
<rect x="345.25" y="496.08" width="17.20" height="24.65" fill="#d3d1d3"/>
<rect x="363.34" y="496.08" width="17.20" height="24.65" fill="#eddf27"/>
<rect x="381.43" y="496.08" width="17.20" height="24.65" fill="#eddf27"/>
<rect x="399.52" y="496.08" width="17.20" height="24.65" fill="#d3d1d3"/>
<rect x="417.61" y="496.08" width="17.20" height="24.65" fill="#d3d1d3"/>
<rect x="435.70" y="496.08" width="17.20" height="24.65" fill="#d3d1d3"/>
<rect x="453.79" y="496.08" width="17.20" height="24.65" fill="#d3d1d3"/>
<rect x="471.88" y="496.08" width="17.20" height="24.65" fill="#d3d1d3"/>
<rect x="489.97" y="496.08" width="17.20" height="24.65" fill="#d3d1d3"/>
<rect x="508.06" y="496.08" width="17.20" height="24.65" fill="#d3d1d3"/>
<rect x="526.15" y="496.08" width="17.20" height="24.65" fill="#d3d1d3"/>
<rect x="544.24" y="496.08" width="17.20" height="24.65" fill="#d3d1d3"/>
<rect x="562.33" y="496.08" width="17.20" height="24.65" fill="#d3d1d3"/>
<rect x="580.42" y="496.08" width="17.20" height="24.65" fill="#d3d1d3"/>
<rect x="598.51" y="496.08" width="17.20" height="24.65" fill="#d3d1d3"/>
<rect x="616.60" y="496.08" width="17.20" height="24.65" fill="#d3d1d3"/>
<rect x="634.69" y="496.08" width="17.20" height="24.65" fill="#d3d1d3"/>
<rect x="652.78" y="496.08" width="17.20" height="24.65" fill="#d3d1d3"/>
<rect x="670.87" y="496.08" width="17.20" height="24.65" fill="#d3d1d3"/>
<rect x="688.96" y="496.08" width="17.20" height="24.65" fill="#f8d012"/>
<rect x="707.05" y="496.08" width="17.20" height="24.65" fill="#d3d1d3"/>
<rect x="725.14" y="496.08" width="17.20" height="24.65" fill="#eddf27"/>
<rect x="743.23" y="496.08" width="17.20" height="24.65" fill="#dc2a2c"/>
<rect x="761.32" y="496.08" width="17.20" height="24.65" fill="#d3d1d3"/>
<rect x="779.41" y="496.08" width="17.20" height="24.65" fill="#d3d1d3"/>
<rect x="797.50" y="496.08" width="17.20" height="24.65" fill="#d3d1d3"/>
<rect x="815.59" y="496.08" width="17.20" height="24.65" fill="#d3d1d3"/>
<rect x="833.68" y="496.08" width="17.20" height="24.65" fill="#d3d1d3"/>
<rect x="851.77" y="496.08" width="17.20" height="24.65" fill="#d3d1d3"/>
<rect x="869.86" y="496.08" width="17.20" height="24.65" fill="#d3d1d3"/>
<rect x="887.95" y="496.08" width="17.20" height="24.65" fill="#d3d1d3"/>
<rect x="906.04" y="496.08" width="17.20" height="24.65" fill="#d3d1d3"/>
<rect x="924.13" y="496.08" width="17.20" height="24.65" fill="#d3d1d3"/>
<rect x="942.22" y="496.08" width="17.20" height="24.65" fill="#d3d1d3"/>
<rect x="960.31" y="496.08" width="17.20" height="24.65" fill="#d3d1d3"/>
<rect x="978.40" y="496.08" width="18.80" height="24.65" fill="#d3d1d3"/>
<rect x="254.80" y="522.04" width="17.20" height="24.65" fill="#d3d1d3"/>
<rect x="272.89" y="522.04" width="17.20" height="24.65" fill="#d3d1d3"/>
<rect x="290.98" y="522.04" width="17.20" height="24.65" fill="#d3d1d3"/>
<rect x="309.07" y="522.04" width="17.20" height="24.65" fill="#eddf27"/>
<rect x="327.16" y="522.04" width="17.20" height="24.65" fill="#eddf27"/>
<rect x="345.25" y="522.04" width="17.20" height="24.65" fill="#d3d1d3"/>
<rect x="363.34" y="522.04" width="17.20" height="24.65" fill="#d3d1d3"/>
<rect x="381.43" y="522.04" width="17.20" height="24.65" fill="#d3d1d3"/>
<rect x="399.52" y="522.04" width="17.20" height="24.65" fill="#d3d1d3"/>
<rect x="417.61" y="522.04" width="17.20" height="24.65" fill="#d3d1d3"/>
<rect x="435.70" y="522.04" width="17.20" height="24.65" fill="#d3d1d3"/>
<rect x="453.79" y="522.04" width="17.20" height="24.65" fill="#d3d1d3"/>
<rect x="471.88" y="522.04" width="17.20" height="24.65" fill="#d3d1d3"/>
<rect x="489.97" y="522.04" width="17.20" height="24.65" fill="#d3d1d3"/>
<rect x="508.06" y="522.04" width="17.20" height="24.65" fill="#d3d1d3"/>
<rect x="526.15" y="522.04" width="17.20" height="24.65" fill="#d3d1d3"/>
<rect x="544.24" y="522.04" width="17.20" height="24.65" fill="#d3d1d3"/>
<rect x="562.33" y="522.04" width="17.20" height="24.65" fill="#d3d1d3"/>
<rect x="580.42" y="522.04" width="17.20" height="24.65" fill="#d3d1d3"/>
<rect x="598.51" y="522.04" width="17.20" height="24.65" fill="#d3d1d3"/>
<rect x="616.60" y="522.04" width="17.20" height="24.65" fill="#d3d1d3"/>
<rect x="634.69" y="522.04" width="17.20" height="24.65" fill="#d3d1d3"/>
<rect x="652.78" y="522.04" width="17.20" height="24.65" fill="#d3d1d3"/>
<rect x="670.87" y="522.04" width="17.20" height="24.65" fill="#d3d1d3"/>
<rect x="688.96" y="522.04" width="17.20" height="24.65" fill="#eddf27"/>
<rect x="707.05" y="522.04" width="17.20" height="24.65" fill="#d3d1d3"/>
<rect x="725.14" y="522.04" width="17.20" height="24.65" fill="#d3d1d3"/>
<rect x="743.23" y="522.04" width="17.20" height="24.65" fill="#dc2a2c"/>
<rect x="761.32" y="522.04" width="17.20" height="24.65" fill="#d3d1d3"/>
<rect x="779.41" y="522.04" width="17.20" height="24.65" fill="#d3d1d3"/>
<rect x="797.50" y="522.04" width="17.20" height="24.65" fill="#d3d1d3"/>
<rect x="815.59" y="522.04" width="17.20" height="24.65" fill="#d3d1d3"/>
<rect x="833.68" y="522.04" width="17.20" height="24.65" fill="#d3d1d3"/>
<rect x="851.77" y="522.04" width="17.20" height="24.65" fill="#d3d1d3"/>
<rect x="869.86" y="522.04" width="17.20" height="24.65" fill="#d3d1d3"/>
<rect x="887.95" y="522.04" width="17.20" height="24.65" fill="#d3d1d3"/>
<rect x="906.04" y="522.04" width="17.20" height="24.65" fill="#d3d1d3"/>
<rect x="924.13" y="522.04" width="17.20" height="24.65" fill="#d3d1d3"/>
<rect x="942.22" y="522.04" width="17.20" height="24.65" fill="#eddf27"/>
<rect x="960.31" y="522.04" width="17.20" height="24.65" fill="#d3d1d3"/>
<rect x="978.40" y="522.04" width="18.80" height="24.65" fill="#d3d1d3"/>
<rect x="254.80" y="548.00" width="17.20" height="24.65" fill="#d3d1d3"/>
<rect x="272.89" y="548.00" width="17.20" height="24.65" fill="#d3d1d3"/>
<rect x="290.98" y="548.00" width="17.20" height="24.65" fill="#d3d1d3"/>
<rect x="309.07" y="548.00" width="17.20" height="24.65" fill="#f8c616"/>
<rect x="327.16" y="548.00" width="17.20" height="24.65" fill="#d3d1d3"/>
<rect x="345.25" y="548.00" width="17.20" height="24.65" fill="#d3d1d3"/>
<rect x="363.34" y="548.00" width="17.20" height="24.65" fill="#d3d1d3"/>
<rect x="381.43" y="548.00" width="17.20" height="24.65" fill="#f8d012"/>
<rect x="399.52" y="548.00" width="17.20" height="24.65" fill="#d3d1d3"/>
<rect x="417.61" y="548.00" width="17.20" height="24.65" fill="#eddf27"/>
<rect x="435.70" y="548.00" width="17.20" height="24.65" fill="#d3d1d3"/>
<rect x="453.79" y="548.00" width="17.20" height="24.65" fill="#d3d1d3"/>
<rect x="471.88" y="548.00" width="17.20" height="24.65" fill="#d3d1d3"/>
<rect x="489.97" y="548.00" width="17.20" height="24.65" fill="#d3d1d3"/>
<rect x="508.06" y="548.00" width="17.20" height="24.65" fill="#d3d1d3"/>
<rect x="526.15" y="548.00" width="17.20" height="24.65" fill="#d3d1d3"/>
<rect x="544.24" y="548.00" width="17.20" height="24.65" fill="#d3d1d3"/>
<rect x="562.33" y="548.00" width="17.20" height="24.65" fill="#d3d1d3"/>
<rect x="580.42" y="548.00" width="17.20" height="24.65" fill="#eddf27"/>
<rect x="598.51" y="548.00" width="17.20" height="24.65" fill="#d3d1d3"/>
<rect x="616.60" y="548.00" width="17.20" height="24.65" fill="#d3d1d3"/>
<rect x="634.69" y="548.00" width="17.20" height="24.65" fill="#d3d1d3"/>
<rect x="652.78" y="548.00" width="17.20" height="24.65" fill="#d3d1d3"/>
<rect x="670.87" y="548.00" width="17.20" height="24.65" fill="#d3d1d3"/>
<rect x="688.96" y="548.00" width="17.20" height="24.65" fill="#d3d1d3"/>
<rect x="707.05" y="548.00" width="17.20" height="24.65" fill="#d3d1d3"/>
<rect x="725.14" y="548.00" width="17.20" height="24.65" fill="#f8c616"/>
<rect x="743.23" y="548.00" width="17.20" height="24.65" fill="#f8c616"/>
<rect x="761.32" y="548.00" width="17.20" height="24.65" fill="#d3d1d3"/>
<rect x="779.41" y="548.00" width="17.20" height="24.65" fill="#d3d1d3"/>
<rect x="797.50" y="548.00" width="17.20" height="24.65" fill="#d3d1d3"/>
<rect x="815.59" y="548.00" width="17.20" height="24.65" fill="#d3d1d3"/>
<rect x="833.68" y="548.00" width="17.20" height="24.65" fill="#d3d1d3"/>
<rect x="851.77" y="548.00" width="17.20" height="24.65" fill="#d3d1d3"/>
<rect x="869.86" y="548.00" width="17.20" height="24.65" fill="#d3d1d3"/>
<rect x="887.95" y="548.00" width="17.20" height="24.65" fill="#d3d1d3"/>
<rect x="906.04" y="548.00" width="17.20" height="24.65" fill="#d3d1d3"/>
<rect x="924.13" y="548.00" width="17.20" height="24.65" fill="#d3d1d3"/>
<rect x="942.22" y="548.00" width="17.20" height="24.65" fill="#d3d1d3"/>
<rect x="960.31" y="548.00" width="17.20" height="24.65" fill="#d3d1d3"/>
<rect x="978.40" y="548.00" width="18.80" height="24.65" fill="#d3d1d3"/>
<rect x="254.80" y="573.97" width="17.20" height="24.65" fill="#d3d1d3"/>
<rect x="272.89" y="573.97" width="17.20" height="24.65" fill="#d3d1d3"/>
<rect x="290.98" y="573.97" width="17.20" height="24.65" fill="#d3d1d3"/>
<rect x="309.07" y="573.97" width="17.20" height="24.65" fill="#d3d1d3"/>
<rect x="327.16" y="573.97" width="17.20" height="24.65" fill="#d3d1d3"/>
<rect x="345.25" y="573.97" width="17.20" height="24.65" fill="#d3d1d3"/>
<rect x="363.34" y="573.97" width="17.20" height="24.65" fill="#d3d1d3"/>
<rect x="381.43" y="573.97" width="17.20" height="24.65" fill="#eddf27"/>
<rect x="399.52" y="573.97" width="17.20" height="24.65" fill="#d3d1d3"/>
<rect x="417.61" y="573.97" width="17.20" height="24.65" fill="#eddf27"/>
<rect x="435.70" y="573.97" width="17.20" height="24.65" fill="#d3d1d3"/>
<rect x="453.79" y="573.97" width="17.20" height="24.65" fill="#d3d1d3"/>
<rect x="471.88" y="573.97" width="17.20" height="24.65" fill="#d3d1d3"/>
<rect x="489.97" y="573.97" width="17.20" height="24.65" fill="#d3d1d3"/>
<rect x="508.06" y="573.97" width="17.20" height="24.65" fill="#d3d1d3"/>
<rect x="526.15" y="573.97" width="17.20" height="24.65" fill="#d3d1d3"/>
<rect x="544.24" y="573.97" width="17.20" height="24.65" fill="#eddf27"/>
<rect x="562.33" y="573.97" width="17.20" height="24.65" fill="#eddf27"/>
<rect x="580.42" y="573.97" width="17.20" height="24.65" fill="#d3d1d3"/>
<rect x="598.51" y="573.97" width="17.20" height="24.65" fill="#d3d1d3"/>
<rect x="616.60" y="573.97" width="17.20" height="24.65" fill="#d3d1d3"/>
<rect x="634.69" y="573.97" width="17.20" height="24.65" fill="#d3d1d3"/>
<rect x="652.78" y="573.97" width="17.20" height="24.65" fill="#d3d1d3"/>
<rect x="670.87" y="573.97" width="17.20" height="24.65" fill="#d3d1d3"/>
<rect x="688.96" y="573.97" width="17.20" height="24.65" fill="#eddf27"/>
<rect x="707.05" y="573.97" width="17.20" height="24.65" fill="#d3d1d3"/>
<rect x="725.14" y="573.97" width="17.20" height="24.65" fill="#eddf27"/>
<rect x="743.23" y="573.97" width="17.20" height="24.65" fill="#e64e28"/>
<rect x="761.32" y="573.97" width="17.20" height="24.65" fill="#d3d1d3"/>
<rect x="779.41" y="573.97" width="17.20" height="24.65" fill="#d3d1d3"/>
<rect x="797.50" y="573.97" width="17.20" height="24.65" fill="#d3d1d3"/>
<rect x="815.59" y="573.97" width="17.20" height="24.65" fill="#d3d1d3"/>
<rect x="833.68" y="573.97" width="17.20" height="24.65" fill="#d3d1d3"/>
<rect x="851.77" y="573.97" width="17.20" height="24.65" fill="#f8d012"/>
<rect x="869.86" y="573.97" width="17.20" height="24.65" fill="#d3d1d3"/>
<rect x="887.95" y="573.97" width="17.20" height="24.65" fill="#d3d1d3"/>
<rect x="906.04" y="573.97" width="17.20" height="24.65" fill="#d3d1d3"/>
<rect x="924.13" y="573.97" width="17.20" height="24.65" fill="#d3d1d3"/>
<rect x="942.22" y="573.97" width="17.20" height="24.65" fill="#d3d1d3"/>
<rect x="960.31" y="573.97" width="17.20" height="24.65" fill="#d3d1d3"/>
<rect x="978.40" y="573.97" width="18.80" height="24.65" fill="#d3d1d3"/>
<line x1="5.9110000000000005" y1="287.7" x2="999" y2="287.7" stroke="#2a2a2a" stroke-width="1.1" stroke-dasharray="1.1 4.261"/>
<line x1="6.4110000000000005" y1="339.6" x2="999" y2="339.6" stroke="#2a2a2a" stroke-width="1.1" stroke-dasharray="1.1 4.261"/>
<line x1="6.811" y1="417.6" x2="999" y2="417.6" stroke="#2a2a2a" stroke-width="1.1" stroke-dasharray="1.1 4.261"/>
<line x1="7.011" y1="469.4" x2="999" y2="469.4" stroke="#2a2a2a" stroke-width="1.1" stroke-dasharray="1.1 4.261"/>
<g fill="none" stroke="#3c3a3b" stroke-width="1">
<rect x="28.5" y="104.5" width="151" height="497"/>
<rect x="179.5" y="104.5" width="73" height="497"/>
<rect x="252.5" y="104.5" width="745" height="497"/>
</g>
<line x1="28.7" y1="99.4" x2="28.7" y2="105" stroke="#3c3a3b" stroke-width="1.1"/>
<line x1="71.2" y1="99.4" x2="71.2" y2="105" stroke="#3c3a3b" stroke-width="1.1"/>
<line x1="113.7" y1="99.4" x2="113.7" y2="105" stroke="#3c3a3b" stroke-width="1.1"/>
<line x1="156.4" y1="99.4" x2="156.4" y2="105" stroke="#3c3a3b" stroke-width="1.1"/>
<text x="22.00" y="92.10" font-size="26" textLength="10.24" lengthAdjust="spacingAndGlyphs" fill="#231f20" stroke="#231f20" stroke-width="0.35">0</text>
<text x="56.20" y="92.10" font-size="26" textLength="30.48" lengthAdjust="spacingAndGlyphs" fill="#231f20" stroke="#231f20" stroke-width="0.35">100</text>
<text x="97.30" y="92.10" font-size="26" textLength="30.99" lengthAdjust="spacingAndGlyphs" fill="#231f20" stroke="#231f20" stroke-width="0.35">200</text>
<text x="139.90" y="92.10" font-size="26" textLength="31.43" lengthAdjust="spacingAndGlyphs" fill="#231f20" stroke="#231f20" stroke-width="0.35">300</text>
<circle cx="147.3" cy="117.3" r="5.95" fill="#231f20"/>
<circle cx="121.8" cy="144.7" r="5.95" fill="#231f20"/>
<circle cx="142.9" cy="170.4" r="5.95" fill="#231f20"/>
<circle cx="106.7" cy="195.9" r="5.95" fill="#231f20"/>
<circle cx="88" cy="222.2" r="5.95" fill="#231f20"/>
<circle cx="96.6" cy="247.5" r="5.95" fill="#231f20"/>
<circle cx="130.7" cy="275.1" r="5.95" fill="#231f20"/>
<circle cx="159.1" cy="300.8" r="5.95" fill="#231f20"/>
<circle cx="137.1" cy="327.6" r="5.95" fill="#231f20"/>
<circle cx="84.2" cy="351.6" r="5.95" fill="#231f20"/>
<circle cx="82.8" cy="375.7" r="5.95" fill="#231f20"/>
<circle cx="96.7" cy="403.5" r="5.95" fill="#231f20"/>
<circle cx="86.9" cy="428.6" r="5.95" fill="#231f20"/>
<circle cx="93.3" cy="456.4" r="5.95" fill="#231f20"/>
<circle cx="119.5" cy="481" r="5.95" fill="#231f20"/>
<circle cx="91.4" cy="507.2" r="5.95" fill="#231f20"/>
<circle cx="77.2" cy="532" r="5.95" fill="#231f20"/>
<circle cx="100.7" cy="558.7" r="5.95" fill="#231f20"/>
<circle cx="106.9" cy="584.9" r="5.95" fill="#231f20"/>
<line x1="12.3" y1="104.9" x2="12.3" y2="245.7" stroke="#231f20" stroke-width="1.3"/>
<text x="0" y="0" transform="translate(18.80,442.80) rotate(-90)" font-size="25.7" textLength="181.61" lengthAdjust="spacingAndGlyphs" fill="#231f20" stroke="#231f20" stroke-width="0.35">Increasing depth</text>
<line x1="11" y1="453.8" x2="11" y2="576" stroke="#3c3a3b" stroke-width="1.4"/>
<polygon points="0,574.3 21.6,574.3 10.8,593.5" fill="#231f20"/>
<text x="0" y="0" transform="translate(214.30,137.30) rotate(90)" font-size="26.3" textLength="117.63" lengthAdjust="spacingAndGlyphs" fill="#231f20" stroke="#231f20" stroke-width="0.35">Upper oxic</text>
<text x="184.40" y="322.80" font-size="26.5" textLength="63.99" lengthAdjust="spacingAndGlyphs" fill="#231f20" stroke="#231f20" stroke-width="0.35">OATZ</text>
<text x="0" y="0" transform="translate(209.60,343.10) rotate(90)" font-size="26.3" textLength="73.78" lengthAdjust="spacingAndGlyphs" fill="#231f20" stroke="#231f20" stroke-width="0.35">Anoxic</text>
<text x="184.90" y="453.20" font-size="25.8" textLength="65.36" lengthAdjust="spacingAndGlyphs" fill="#231f20" stroke="#231f20" stroke-width="0.35">AOTZ</text>
<text x="0" y="0" transform="translate(210.00,477.30) rotate(90)" font-size="26.0" textLength="118.79" lengthAdjust="spacingAndGlyphs" fill="#231f20" stroke="#231f20" stroke-width="0.35">Lower oxic</text>
<text x="3.40" y="657.10" font-size="32.5" textLength="25.16" lengthAdjust="spacingAndGlyphs" fill="#231f20" stroke="#231f20" stroke-width="0.35">C</text>
<text x="254.40" y="657.10" font-size="32.5" textLength="24.21" lengthAdjust="spacingAndGlyphs" fill="#231f20" stroke="#231f20" stroke-width="0.35">D</text>
<line x1="255.6" y1="687.4" x2="449.4" y2="687.4" stroke="#231f20" stroke-width="2.3"/>
<line x1="454.4" y1="687.4" x2="523.1" y2="687.4" stroke="#231f20" stroke-width="2.3"/>
<line x1="526.5" y1="687.4" x2="595.4" y2="687.4" stroke="#231f20" stroke-width="2.3"/>
<line x1="598.8" y1="687.4" x2="665.1" y2="687.4" stroke="#231f20" stroke-width="2.3"/>
<line x1="669.7" y1="687.4" x2="756.6" y2="687.4" stroke="#231f20" stroke-width="2.3"/>
<line x1="761.2" y1="687.4" x2="774.8" y2="687.4" stroke="#231f20" stroke-width="2.3"/>
<line x1="777.3" y1="687.4" x2="810.3" y2="687.4" stroke="#231f20" stroke-width="2.3"/>
<line x1="814.3" y1="687.4" x2="865.2" y2="687.4" stroke="#231f20" stroke-width="2.3"/>
<line x1="870.1" y1="687.4" x2="883.3" y2="687.4" stroke="#231f20" stroke-width="2.3"/>
<line x1="886.6" y1="687.4" x2="995.5" y2="687.4" stroke="#231f20" stroke-width="2.3"/>
<text x="339.70" y="676.30" font-size="32.5" textLength="15.48" lengthAdjust="spacingAndGlyphs" fill="#231f20" stroke="#231f20" stroke-width="0.35">α</text>
<text x="477.90" y="676.30" font-size="32.5" textLength="15.93" lengthAdjust="spacingAndGlyphs" fill="#231f20" stroke="#231f20" stroke-width="0.35">β</text>
<text x="550.20" y="676.30" font-size="32.5" textLength="14.32" lengthAdjust="spacingAndGlyphs" fill="#231f20" stroke="#231f20" stroke-width="0.35">γ</text>
<text x="625.00" y="676.30" font-size="32.5" textLength="12.52" lengthAdjust="spacingAndGlyphs" fill="#231f20" stroke="#231f20" stroke-width="0.35">ε</text>
<text x="708.60" y="676.30" font-size="32.5" textLength="16.92" lengthAdjust="spacingAndGlyphs" fill="#231f20" stroke="#231f20" stroke-width="0.35">η</text>
<text x="763.90" y="676.30" font-size="32.5" textLength="15.67" lengthAdjust="spacingAndGlyphs" fill="#231f20" stroke="#231f20" stroke-width="0.35">θ</text>
<text x="837.70" y="676.30" font-size="32.5" textLength="13.00" lengthAdjust="spacingAndGlyphs" fill="#231f20" stroke="#231f20" stroke-width="0.35">λ</text>
<text x="875.10" y="676.30" font-size="32.5" textLength="14.34" lengthAdjust="spacingAndGlyphs" fill="#231f20" stroke="#231f20" stroke-width="0.35">ζ</text>
<text x="937.70" y="676.30" font-size="32.5" textLength="15.24" lengthAdjust="spacingAndGlyphs" fill="#231f20" stroke="#231f20" stroke-width="0.35">υ</text>
<rect x="797.40" y="659.50" width="2.4" height="16.8" fill="#231f20"/>
<rect x="30.0" y="863.8" width="149.2" height="41.4" fill="#d3d1d3"/>
<rect x="30.0" y="1029.6" width="149.2" height="20.8" fill="#d3d1d3"/>
<rect x="254.80" y="698.35" width="17.20" height="19.4" fill="#d3d1d3"/>
<rect x="272.89" y="698.35" width="17.20" height="19.4" fill="#eddf27"/>
<rect x="290.98" y="698.35" width="17.20" height="19.4" fill="#eddf27"/>
<rect x="309.07" y="698.35" width="17.20" height="19.4" fill="#eddf27"/>
<rect x="327.16" y="698.35" width="17.20" height="19.4" fill="#eddf27"/>
<rect x="345.25" y="698.35" width="17.20" height="19.4" fill="#eddf27"/>
<rect x="363.34" y="698.35" width="17.20" height="19.4" fill="#eddf27"/>
<rect x="381.43" y="698.35" width="17.20" height="19.4" fill="#d3d1d3"/>
<rect x="399.52" y="698.35" width="17.20" height="19.4" fill="#eddf27"/>
<rect x="417.61" y="698.35" width="17.20" height="19.4" fill="#d3d1d3"/>
<rect x="435.70" y="698.35" width="17.20" height="19.4" fill="#eddf27"/>
<rect x="453.79" y="698.35" width="17.20" height="19.4" fill="#eddf27"/>
<rect x="471.88" y="698.35" width="17.20" height="19.4" fill="#d3d1d3"/>
<rect x="489.97" y="698.35" width="17.20" height="19.4" fill="#eddf27"/>
<rect x="508.06" y="698.35" width="17.20" height="19.4" fill="#eddf27"/>
<rect x="526.15" y="698.35" width="17.20" height="19.4" fill="#d3d1d3"/>
<rect x="544.24" y="698.35" width="17.20" height="19.4" fill="#d3d1d3"/>
<rect x="562.33" y="698.35" width="17.20" height="19.4" fill="#d3d1d3"/>
<rect x="580.42" y="698.35" width="17.20" height="19.4" fill="#eddf27"/>
<rect x="598.51" y="698.35" width="17.20" height="19.4" fill="#eddf27"/>
<rect x="616.60" y="698.35" width="17.20" height="19.4" fill="#eddf27"/>
<rect x="634.69" y="698.35" width="17.20" height="19.4" fill="#eddf27"/>
<rect x="652.78" y="698.35" width="17.20" height="19.4" fill="#eddf27"/>
<rect x="670.87" y="698.35" width="17.20" height="19.4" fill="#eddf27"/>
<rect x="688.96" y="698.35" width="17.20" height="19.4" fill="#d3d1d3"/>
<rect x="707.05" y="698.35" width="17.20" height="19.4" fill="#d3d1d3"/>
<rect x="725.14" y="698.35" width="17.20" height="19.4" fill="#eddf27"/>
<rect x="743.23" y="698.35" width="17.20" height="19.4" fill="#eddf27"/>
<rect x="761.32" y="698.35" width="17.20" height="19.4" fill="#eddf27"/>
<rect x="779.41" y="698.35" width="17.20" height="19.4" fill="#eddf27"/>
<rect x="797.50" y="698.35" width="17.20" height="19.4" fill="#eddf27"/>
<rect x="815.59" y="698.35" width="17.20" height="19.4" fill="#eddf27"/>
<rect x="833.68" y="698.35" width="17.20" height="19.4" fill="#eddf27"/>
<rect x="851.77" y="698.35" width="17.20" height="19.4" fill="#d3d1d3"/>
<rect x="869.86" y="698.35" width="17.20" height="19.4" fill="#eddf27"/>
<rect x="887.95" y="698.35" width="17.20" height="19.4" fill="#eddf27"/>
<rect x="906.04" y="698.35" width="17.20" height="19.4" fill="#eddf27"/>
<rect x="924.13" y="698.35" width="17.20" height="19.4" fill="#f8d012"/>
<rect x="942.22" y="698.35" width="17.20" height="19.4" fill="#eddf27"/>
<rect x="960.31" y="698.35" width="17.20" height="19.4" fill="#eddf27"/>
<rect x="978.40" y="698.35" width="18.80" height="19.4" fill="#eddf27"/>
<rect x="254.80" y="719.08" width="17.20" height="19.4" fill="#d3d1d3"/>
<rect x="272.89" y="719.08" width="17.20" height="19.4" fill="#d3d1d3"/>
<rect x="290.98" y="719.08" width="17.20" height="19.4" fill="#d3d1d3"/>
<rect x="309.07" y="719.08" width="17.20" height="19.4" fill="#d3d1d3"/>
<rect x="327.16" y="719.08" width="17.20" height="19.4" fill="#d3d1d3"/>
<rect x="345.25" y="719.08" width="17.20" height="19.4" fill="#d3d1d3"/>
<rect x="363.34" y="719.08" width="17.20" height="19.4" fill="#d3d1d3"/>
<rect x="381.43" y="719.08" width="17.20" height="19.4" fill="#d3d1d3"/>
<rect x="399.52" y="719.08" width="17.20" height="19.4" fill="#d3d1d3"/>
<rect x="417.61" y="719.08" width="17.20" height="19.4" fill="#d3d1d3"/>
<rect x="435.70" y="719.08" width="17.20" height="19.4" fill="#d3d1d3"/>
<rect x="453.79" y="719.08" width="17.20" height="19.4" fill="#d3d1d3"/>
<rect x="471.88" y="719.08" width="17.20" height="19.4" fill="#d3d1d3"/>
<rect x="489.97" y="719.08" width="17.20" height="19.4" fill="#d3d1d3"/>
<rect x="508.06" y="719.08" width="17.20" height="19.4" fill="#d3d1d3"/>
<rect x="526.15" y="719.08" width="17.20" height="19.4" fill="#d3d1d3"/>
<rect x="544.24" y="719.08" width="17.20" height="19.4" fill="#d3d1d3"/>
<rect x="562.33" y="719.08" width="17.20" height="19.4" fill="#d3d1d3"/>
<rect x="580.42" y="719.08" width="17.20" height="19.4" fill="#d3d1d3"/>
<rect x="598.51" y="719.08" width="17.20" height="19.4" fill="#d3d1d3"/>
<rect x="616.60" y="719.08" width="17.20" height="19.4" fill="#d3d1d3"/>
<rect x="634.69" y="719.08" width="17.20" height="19.4" fill="#d3d1d3"/>
<rect x="652.78" y="719.08" width="17.20" height="19.4" fill="#d3d1d3"/>
<rect x="670.87" y="719.08" width="17.20" height="19.4" fill="#d3d1d3"/>
<rect x="688.96" y="719.08" width="17.20" height="19.4" fill="#eddf27"/>
<rect x="707.05" y="719.08" width="17.20" height="19.4" fill="#d3d1d3"/>
<rect x="725.14" y="719.08" width="17.20" height="19.4" fill="#d3d1d3"/>
<rect x="743.23" y="719.08" width="17.20" height="19.4" fill="#dc2a2c"/>
<rect x="761.32" y="719.08" width="17.20" height="19.4" fill="#d3d1d3"/>
<rect x="779.41" y="719.08" width="17.20" height="19.4" fill="#d3d1d3"/>
<rect x="797.50" y="719.08" width="17.20" height="19.4" fill="#d3d1d3"/>
<rect x="815.59" y="719.08" width="17.20" height="19.4" fill="#d3d1d3"/>
<rect x="833.68" y="719.08" width="17.20" height="19.4" fill="#d3d1d3"/>
<rect x="851.77" y="719.08" width="17.20" height="19.4" fill="#d3d1d3"/>
<rect x="869.86" y="719.08" width="17.20" height="19.4" fill="#d3d1d3"/>
<rect x="887.95" y="719.08" width="17.20" height="19.4" fill="#d3d1d3"/>
<rect x="906.04" y="719.08" width="17.20" height="19.4" fill="#d3d1d3"/>
<rect x="924.13" y="719.08" width="17.20" height="19.4" fill="#eddf27"/>
<rect x="942.22" y="719.08" width="17.20" height="19.4" fill="#d3d1d3"/>
<rect x="960.31" y="719.08" width="17.20" height="19.4" fill="#d3d1d3"/>
<rect x="978.40" y="719.08" width="18.80" height="19.4" fill="#d3d1d3"/>
<rect x="254.80" y="739.82" width="17.20" height="19.4" fill="#d3d1d3"/>
<rect x="272.89" y="739.82" width="17.20" height="19.4" fill="#d3d1d3"/>
<rect x="290.98" y="739.82" width="17.20" height="19.4" fill="#d3d1d3"/>
<rect x="309.07" y="739.82" width="17.20" height="19.4" fill="#d3d1d3"/>
<rect x="327.16" y="739.82" width="17.20" height="19.4" fill="#d3d1d3"/>
<rect x="345.25" y="739.82" width="17.20" height="19.4" fill="#d3d1d3"/>
<rect x="363.34" y="739.82" width="17.20" height="19.4" fill="#d3d1d3"/>
<rect x="381.43" y="739.82" width="17.20" height="19.4" fill="#d3d1d3"/>
<rect x="399.52" y="739.82" width="17.20" height="19.4" fill="#d3d1d3"/>
<rect x="417.61" y="739.82" width="17.20" height="19.4" fill="#d3d1d3"/>
<rect x="435.70" y="739.82" width="17.20" height="19.4" fill="#d3d1d3"/>
<rect x="453.79" y="739.82" width="17.20" height="19.4" fill="#d3d1d3"/>
<rect x="471.88" y="739.82" width="17.20" height="19.4" fill="#d3d1d3"/>
<rect x="489.97" y="739.82" width="17.20" height="19.4" fill="#d3d1d3"/>
<rect x="508.06" y="739.82" width="17.20" height="19.4" fill="#d3d1d3"/>
<rect x="526.15" y="739.82" width="17.20" height="19.4" fill="#d3d1d3"/>
<rect x="544.24" y="739.82" width="17.20" height="19.4" fill="#d3d1d3"/>
<rect x="562.33" y="739.82" width="17.20" height="19.4" fill="#d3d1d3"/>
<rect x="580.42" y="739.82" width="17.20" height="19.4" fill="#d3d1d3"/>
<rect x="598.51" y="739.82" width="17.20" height="19.4" fill="#d3d1d3"/>
<rect x="616.60" y="739.82" width="17.20" height="19.4" fill="#d3d1d3"/>
<rect x="634.69" y="739.82" width="17.20" height="19.4" fill="#d3d1d3"/>
<rect x="652.78" y="739.82" width="17.20" height="19.4" fill="#d3d1d3"/>
<rect x="670.87" y="739.82" width="17.20" height="19.4" fill="#d3d1d3"/>
<rect x="688.96" y="739.82" width="17.20" height="19.4" fill="#eddf27"/>
<rect x="707.05" y="739.82" width="17.20" height="19.4" fill="#d3d1d3"/>
<rect x="725.14" y="739.82" width="17.20" height="19.4" fill="#d3d1d3"/>
<rect x="743.23" y="739.82" width="17.20" height="19.4" fill="#dc2a2c"/>
<rect x="761.32" y="739.82" width="17.20" height="19.4" fill="#d3d1d3"/>
<rect x="779.41" y="739.82" width="17.20" height="19.4" fill="#d3d1d3"/>
<rect x="797.50" y="739.82" width="17.20" height="19.4" fill="#d3d1d3"/>
<rect x="815.59" y="739.82" width="17.20" height="19.4" fill="#d3d1d3"/>
<rect x="833.68" y="739.82" width="17.20" height="19.4" fill="#d3d1d3"/>
<rect x="851.77" y="739.82" width="17.20" height="19.4" fill="#d3d1d3"/>
<rect x="869.86" y="739.82" width="17.20" height="19.4" fill="#d3d1d3"/>
<rect x="887.95" y="739.82" width="17.20" height="19.4" fill="#d3d1d3"/>
<rect x="906.04" y="739.82" width="17.20" height="19.4" fill="#d3d1d3"/>
<rect x="924.13" y="739.82" width="17.20" height="19.4" fill="#eddf27"/>
<rect x="942.22" y="739.82" width="17.20" height="19.4" fill="#d3d1d3"/>
<rect x="960.31" y="739.82" width="17.20" height="19.4" fill="#d3d1d3"/>
<rect x="978.40" y="739.82" width="18.80" height="19.4" fill="#d3d1d3"/>
<rect x="254.80" y="760.55" width="17.20" height="19.4" fill="#d3d1d3"/>
<rect x="272.89" y="760.55" width="17.20" height="19.4" fill="#d3d1d3"/>
<rect x="290.98" y="760.55" width="17.20" height="19.4" fill="#d3d1d3"/>
<rect x="309.07" y="760.55" width="17.20" height="19.4" fill="#d3d1d3"/>
<rect x="327.16" y="760.55" width="17.20" height="19.4" fill="#d3d1d3"/>
<rect x="345.25" y="760.55" width="17.20" height="19.4" fill="#d3d1d3"/>
<rect x="363.34" y="760.55" width="17.20" height="19.4" fill="#d3d1d3"/>
<rect x="381.43" y="760.55" width="17.20" height="19.4" fill="#d3d1d3"/>
<rect x="399.52" y="760.55" width="17.20" height="19.4" fill="#d3d1d3"/>
<rect x="417.61" y="760.55" width="17.20" height="19.4" fill="#d3d1d3"/>
<rect x="435.70" y="760.55" width="17.20" height="19.4" fill="#d3d1d3"/>
<rect x="453.79" y="760.55" width="17.20" height="19.4" fill="#d3d1d3"/>
<rect x="471.88" y="760.55" width="17.20" height="19.4" fill="#d3d1d3"/>
<rect x="489.97" y="760.55" width="17.20" height="19.4" fill="#d3d1d3"/>
<rect x="508.06" y="760.55" width="17.20" height="19.4" fill="#d3d1d3"/>
<rect x="526.15" y="760.55" width="17.20" height="19.4" fill="#d3d1d3"/>
<rect x="544.24" y="760.55" width="17.20" height="19.4" fill="#d3d1d3"/>
<rect x="562.33" y="760.55" width="17.20" height="19.4" fill="#d3d1d3"/>
<rect x="580.42" y="760.55" width="17.20" height="19.4" fill="#d3d1d3"/>
<rect x="598.51" y="760.55" width="17.20" height="19.4" fill="#d3d1d3"/>
<rect x="616.60" y="760.55" width="17.20" height="19.4" fill="#d3d1d3"/>
<rect x="634.69" y="760.55" width="17.20" height="19.4" fill="#d3d1d3"/>
<rect x="652.78" y="760.55" width="17.20" height="19.4" fill="#d3d1d3"/>
<rect x="670.87" y="760.55" width="17.20" height="19.4" fill="#d3d1d3"/>
<rect x="688.96" y="760.55" width="17.20" height="19.4" fill="#d3d1d3"/>
<rect x="707.05" y="760.55" width="17.20" height="19.4" fill="#d3d1d3"/>
<rect x="725.14" y="760.55" width="17.20" height="19.4" fill="#d3d1d3"/>
<rect x="743.23" y="760.55" width="17.20" height="19.4" fill="#dc2a2c"/>
<rect x="761.32" y="760.55" width="17.20" height="19.4" fill="#d3d1d3"/>
<rect x="779.41" y="760.55" width="17.20" height="19.4" fill="#d3d1d3"/>
<rect x="797.50" y="760.55" width="17.20" height="19.4" fill="#d3d1d3"/>
<rect x="815.59" y="760.55" width="17.20" height="19.4" fill="#d3d1d3"/>
<rect x="833.68" y="760.55" width="17.20" height="19.4" fill="#d3d1d3"/>
<rect x="851.77" y="760.55" width="17.20" height="19.4" fill="#d3d1d3"/>
<rect x="869.86" y="760.55" width="17.20" height="19.4" fill="#d3d1d3"/>
<rect x="887.95" y="760.55" width="17.20" height="19.4" fill="#d3d1d3"/>
<rect x="906.04" y="760.55" width="17.20" height="19.4" fill="#d3d1d3"/>
<rect x="924.13" y="760.55" width="17.20" height="19.4" fill="#d3d1d3"/>
<rect x="942.22" y="760.55" width="17.20" height="19.4" fill="#d3d1d3"/>
<rect x="960.31" y="760.55" width="17.20" height="19.4" fill="#d3d1d3"/>
<rect x="978.40" y="760.55" width="18.80" height="19.4" fill="#d3d1d3"/>
<rect x="254.80" y="781.28" width="17.20" height="19.4" fill="#d3d1d3"/>
<rect x="272.89" y="781.28" width="17.20" height="19.4" fill="#d3d1d3"/>
<rect x="290.98" y="781.28" width="17.20" height="19.4" fill="#d3d1d3"/>
<rect x="309.07" y="781.28" width="17.20" height="19.4" fill="#d3d1d3"/>
<rect x="327.16" y="781.28" width="17.20" height="19.4" fill="#d3d1d3"/>
<rect x="345.25" y="781.28" width="17.20" height="19.4" fill="#d3d1d3"/>
<rect x="363.34" y="781.28" width="17.20" height="19.4" fill="#d3d1d3"/>
<rect x="381.43" y="781.28" width="17.20" height="19.4" fill="#d3d1d3"/>
<rect x="399.52" y="781.28" width="17.20" height="19.4" fill="#d3d1d3"/>
<rect x="417.61" y="781.28" width="17.20" height="19.4" fill="#d3d1d3"/>
<rect x="435.70" y="781.28" width="17.20" height="19.4" fill="#d3d1d3"/>
<rect x="453.79" y="781.28" width="17.20" height="19.4" fill="#d3d1d3"/>
<rect x="471.88" y="781.28" width="17.20" height="19.4" fill="#d3d1d3"/>
<rect x="489.97" y="781.28" width="17.20" height="19.4" fill="#d3d1d3"/>
<rect x="508.06" y="781.28" width="17.20" height="19.4" fill="#d3d1d3"/>
<rect x="526.15" y="781.28" width="17.20" height="19.4" fill="#d3d1d3"/>
<rect x="544.24" y="781.28" width="17.20" height="19.4" fill="#d3d1d3"/>
<rect x="562.33" y="781.28" width="17.20" height="19.4" fill="#d3d1d3"/>
<rect x="580.42" y="781.28" width="17.20" height="19.4" fill="#d3d1d3"/>
<rect x="598.51" y="781.28" width="17.20" height="19.4" fill="#d3d1d3"/>
<rect x="616.60" y="781.28" width="17.20" height="19.4" fill="#d3d1d3"/>
<rect x="634.69" y="781.28" width="17.20" height="19.4" fill="#d3d1d3"/>
<rect x="652.78" y="781.28" width="17.20" height="19.4" fill="#d3d1d3"/>
<rect x="670.87" y="781.28" width="17.20" height="19.4" fill="#d3d1d3"/>
<rect x="688.96" y="781.28" width="17.20" height="19.4" fill="#d3d1d3"/>
<rect x="707.05" y="781.28" width="17.20" height="19.4" fill="#d3d1d3"/>
<rect x="725.14" y="781.28" width="17.20" height="19.4" fill="#d3d1d3"/>
<rect x="743.23" y="781.28" width="17.20" height="19.4" fill="#dc2a2c"/>
<rect x="761.32" y="781.28" width="17.20" height="19.4" fill="#d3d1d3"/>
<rect x="779.41" y="781.28" width="17.20" height="19.4" fill="#d3d1d3"/>
<rect x="797.50" y="781.28" width="17.20" height="19.4" fill="#d3d1d3"/>
<rect x="815.59" y="781.28" width="17.20" height="19.4" fill="#d3d1d3"/>
<rect x="833.68" y="781.28" width="17.20" height="19.4" fill="#d3d1d3"/>
<rect x="851.77" y="781.28" width="17.20" height="19.4" fill="#d3d1d3"/>
<rect x="869.86" y="781.28" width="17.20" height="19.4" fill="#d3d1d3"/>
<rect x="887.95" y="781.28" width="17.20" height="19.4" fill="#d3d1d3"/>
<rect x="906.04" y="781.28" width="17.20" height="19.4" fill="#d3d1d3"/>
<rect x="924.13" y="781.28" width="17.20" height="19.4" fill="#d3d1d3"/>
<rect x="942.22" y="781.28" width="17.20" height="19.4" fill="#d3d1d3"/>
<rect x="960.31" y="781.28" width="17.20" height="19.4" fill="#d3d1d3"/>
<rect x="978.40" y="781.28" width="18.80" height="19.4" fill="#d3d1d3"/>
<rect x="254.80" y="802.01" width="17.20" height="19.4" fill="#d3d1d3"/>
<rect x="272.89" y="802.01" width="17.20" height="19.4" fill="#d3d1d3"/>
<rect x="290.98" y="802.01" width="17.20" height="19.4" fill="#d3d1d3"/>
<rect x="309.07" y="802.01" width="17.20" height="19.4" fill="#d3d1d3"/>
<rect x="327.16" y="802.01" width="17.20" height="19.4" fill="#d3d1d3"/>
<rect x="345.25" y="802.01" width="17.20" height="19.4" fill="#d3d1d3"/>
<rect x="363.34" y="802.01" width="17.20" height="19.4" fill="#d3d1d3"/>
<rect x="381.43" y="802.01" width="17.20" height="19.4" fill="#d3d1d3"/>
<rect x="399.52" y="802.01" width="17.20" height="19.4" fill="#d3d1d3"/>
<rect x="417.61" y="802.01" width="17.20" height="19.4" fill="#d3d1d3"/>
<rect x="435.70" y="802.01" width="17.20" height="19.4" fill="#d3d1d3"/>
<rect x="453.79" y="802.01" width="17.20" height="19.4" fill="#d3d1d3"/>
<rect x="471.88" y="802.01" width="17.20" height="19.4" fill="#d3d1d3"/>
<rect x="489.97" y="802.01" width="17.20" height="19.4" fill="#d3d1d3"/>
<rect x="508.06" y="802.01" width="17.20" height="19.4" fill="#d3d1d3"/>
<rect x="526.15" y="802.01" width="17.20" height="19.4" fill="#d3d1d3"/>
<rect x="544.24" y="802.01" width="17.20" height="19.4" fill="#d3d1d3"/>
<rect x="562.33" y="802.01" width="17.20" height="19.4" fill="#d3d1d3"/>
<rect x="580.42" y="802.01" width="17.20" height="19.4" fill="#d3d1d3"/>
<rect x="598.51" y="802.01" width="17.20" height="19.4" fill="#eddf27"/>
<rect x="616.60" y="802.01" width="17.20" height="19.4" fill="#d3d1d3"/>
<rect x="634.69" y="802.01" width="17.20" height="19.4" fill="#d3d1d3"/>
<rect x="652.78" y="802.01" width="17.20" height="19.4" fill="#d3d1d3"/>
<rect x="670.87" y="802.01" width="17.20" height="19.4" fill="#d3d1d3"/>
<rect x="688.96" y="802.01" width="17.20" height="19.4" fill="#d3d1d3"/>
<rect x="707.05" y="802.01" width="17.20" height="19.4" fill="#eddf27"/>
<rect x="725.14" y="802.01" width="17.20" height="19.4" fill="#d3d1d3"/>
<rect x="743.23" y="802.01" width="17.20" height="19.4" fill="#dc2a2c"/>
<rect x="761.32" y="802.01" width="17.20" height="19.4" fill="#d3d1d3"/>
<rect x="779.41" y="802.01" width="17.20" height="19.4" fill="#d3d1d3"/>
<rect x="797.50" y="802.01" width="17.20" height="19.4" fill="#d3d1d3"/>
<rect x="815.59" y="802.01" width="17.20" height="19.4" fill="#d3d1d3"/>
<rect x="833.68" y="802.01" width="17.20" height="19.4" fill="#d3d1d3"/>
<rect x="851.77" y="802.01" width="17.20" height="19.4" fill="#d3d1d3"/>
<rect x="869.86" y="802.01" width="17.20" height="19.4" fill="#d3d1d3"/>
<rect x="887.95" y="802.01" width="17.20" height="19.4" fill="#d3d1d3"/>
<rect x="906.04" y="802.01" width="17.20" height="19.4" fill="#d3d1d3"/>
<rect x="924.13" y="802.01" width="17.20" height="19.4" fill="#d3d1d3"/>
<rect x="942.22" y="802.01" width="17.20" height="19.4" fill="#d3d1d3"/>
<rect x="960.31" y="802.01" width="17.20" height="19.4" fill="#d3d1d3"/>
<rect x="978.40" y="802.01" width="18.80" height="19.4" fill="#d3d1d3"/>
<rect x="254.80" y="822.75" width="17.20" height="19.4" fill="#d3d1d3"/>
<rect x="272.89" y="822.75" width="17.20" height="19.4" fill="#d3d1d3"/>
<rect x="290.98" y="822.75" width="17.20" height="19.4" fill="#d3d1d3"/>
<rect x="309.07" y="822.75" width="17.20" height="19.4" fill="#d3d1d3"/>
<rect x="327.16" y="822.75" width="17.20" height="19.4" fill="#d3d1d3"/>
<rect x="345.25" y="822.75" width="17.20" height="19.4" fill="#d3d1d3"/>
<rect x="363.34" y="822.75" width="17.20" height="19.4" fill="#d3d1d3"/>
<rect x="381.43" y="822.75" width="17.20" height="19.4" fill="#d3d1d3"/>
<rect x="399.52" y="822.75" width="17.20" height="19.4" fill="#d3d1d3"/>
<rect x="417.61" y="822.75" width="17.20" height="19.4" fill="#d3d1d3"/>
<rect x="435.70" y="822.75" width="17.20" height="19.4" fill="#d3d1d3"/>
<rect x="453.79" y="822.75" width="17.20" height="19.4" fill="#d3d1d3"/>
<rect x="471.88" y="822.75" width="17.20" height="19.4" fill="#d3d1d3"/>
<rect x="489.97" y="822.75" width="17.20" height="19.4" fill="#d3d1d3"/>
<rect x="508.06" y="822.75" width="17.20" height="19.4" fill="#d3d1d3"/>
<rect x="526.15" y="822.75" width="17.20" height="19.4" fill="#d3d1d3"/>
<rect x="544.24" y="822.75" width="17.20" height="19.4" fill="#d3d1d3"/>
<rect x="562.33" y="822.75" width="17.20" height="19.4" fill="#d3d1d3"/>
<rect x="580.42" y="822.75" width="17.20" height="19.4" fill="#d3d1d3"/>
<rect x="598.51" y="822.75" width="17.20" height="19.4" fill="#d3d1d3"/>
<rect x="616.60" y="822.75" width="17.20" height="19.4" fill="#d3d1d3"/>
<rect x="634.69" y="822.75" width="17.20" height="19.4" fill="#d3d1d3"/>
<rect x="652.78" y="822.75" width="17.20" height="19.4" fill="#d3d1d3"/>
<rect x="670.87" y="822.75" width="17.20" height="19.4" fill="#d3d1d3"/>
<rect x="688.96" y="822.75" width="17.20" height="19.4" fill="#d3d1d3"/>
<rect x="707.05" y="822.75" width="17.20" height="19.4" fill="#d3d1d3"/>
<rect x="725.14" y="822.75" width="17.20" height="19.4" fill="#d3d1d3"/>
<rect x="743.23" y="822.75" width="17.20" height="19.4" fill="#dc2a2c"/>
<rect x="761.32" y="822.75" width="17.20" height="19.4" fill="#d3d1d3"/>
<rect x="779.41" y="822.75" width="17.20" height="19.4" fill="#d3d1d3"/>
<rect x="797.50" y="822.75" width="17.20" height="19.4" fill="#d3d1d3"/>
<rect x="815.59" y="822.75" width="17.20" height="19.4" fill="#d3d1d3"/>
<rect x="833.68" y="822.75" width="17.20" height="19.4" fill="#d3d1d3"/>
<rect x="851.77" y="822.75" width="17.20" height="19.4" fill="#d3d1d3"/>
<rect x="869.86" y="822.75" width="17.20" height="19.4" fill="#d3d1d3"/>
<rect x="887.95" y="822.75" width="17.20" height="19.4" fill="#d3d1d3"/>
<rect x="906.04" y="822.75" width="17.20" height="19.4" fill="#d3d1d3"/>
<rect x="924.13" y="822.75" width="17.20" height="19.4" fill="#d3d1d3"/>
<rect x="942.22" y="822.75" width="17.20" height="19.4" fill="#d3d1d3"/>
<rect x="960.31" y="822.75" width="17.20" height="19.4" fill="#d3d1d3"/>
<rect x="978.40" y="822.75" width="18.80" height="19.4" fill="#d3d1d3"/>
<rect x="254.80" y="843.48" width="17.20" height="19.4" fill="#d3d1d3"/>
<rect x="272.89" y="843.48" width="17.20" height="19.4" fill="#d3d1d3"/>
<rect x="290.98" y="843.48" width="17.20" height="19.4" fill="#d3d1d3"/>
<rect x="309.07" y="843.48" width="17.20" height="19.4" fill="#d3d1d3"/>
<rect x="327.16" y="843.48" width="17.20" height="19.4" fill="#eddf27"/>
<rect x="345.25" y="843.48" width="17.20" height="19.4" fill="#d3d1d3"/>
<rect x="363.34" y="843.48" width="17.20" height="19.4" fill="#d3d1d3"/>
<rect x="381.43" y="843.48" width="17.20" height="19.4" fill="#d3d1d3"/>
<rect x="399.52" y="843.48" width="17.20" height="19.4" fill="#eddf27"/>
<rect x="417.61" y="843.48" width="17.20" height="19.4" fill="#d3d1d3"/>
<rect x="435.70" y="843.48" width="17.20" height="19.4" fill="#d3d1d3"/>
<rect x="453.79" y="843.48" width="17.20" height="19.4" fill="#d3d1d3"/>
<rect x="471.88" y="843.48" width="17.20" height="19.4" fill="#d3d1d3"/>
<rect x="489.97" y="843.48" width="17.20" height="19.4" fill="#d3d1d3"/>
<rect x="508.06" y="843.48" width="17.20" height="19.4" fill="#d3d1d3"/>
<rect x="526.15" y="843.48" width="17.20" height="19.4" fill="#d3d1d3"/>
<rect x="544.24" y="843.48" width="17.20" height="19.4" fill="#d3d1d3"/>
<rect x="562.33" y="843.48" width="17.20" height="19.4" fill="#d3d1d3"/>
<rect x="580.42" y="843.48" width="17.20" height="19.4" fill="#d3d1d3"/>
<rect x="598.51" y="843.48" width="17.20" height="19.4" fill="#d3d1d3"/>
<rect x="616.60" y="843.48" width="17.20" height="19.4" fill="#d3d1d3"/>
<rect x="634.69" y="843.48" width="17.20" height="19.4" fill="#d3d1d3"/>
<rect x="652.78" y="843.48" width="17.20" height="19.4" fill="#d3d1d3"/>
<rect x="670.87" y="843.48" width="17.20" height="19.4" fill="#eddf27"/>
<rect x="688.96" y="843.48" width="17.20" height="19.4" fill="#ea6a28"/>
<rect x="707.05" y="843.48" width="17.20" height="19.4" fill="#d3d1d3"/>
<rect x="725.14" y="843.48" width="17.20" height="19.4" fill="#d3d1d3"/>
<rect x="743.23" y="843.48" width="17.20" height="19.4" fill="#f8c616"/>
<rect x="761.32" y="843.48" width="17.20" height="19.4" fill="#eddf27"/>
<rect x="779.41" y="843.48" width="17.20" height="19.4" fill="#d3d1d3"/>
<rect x="797.50" y="843.48" width="17.20" height="19.4" fill="#d3d1d3"/>
<rect x="815.59" y="843.48" width="17.20" height="19.4" fill="#d3d1d3"/>
<rect x="833.68" y="843.48" width="17.20" height="19.4" fill="#d3d1d3"/>
<rect x="851.77" y="843.48" width="17.20" height="19.4" fill="#d3d1d3"/>
<rect x="869.86" y="843.48" width="17.20" height="19.4" fill="#d3d1d3"/>
<rect x="887.95" y="843.48" width="17.20" height="19.4" fill="#d3d1d3"/>
<rect x="906.04" y="843.48" width="17.20" height="19.4" fill="#d3d1d3"/>
<rect x="924.13" y="843.48" width="17.20" height="19.4" fill="#d3d1d3"/>
<rect x="942.22" y="843.48" width="17.20" height="19.4" fill="#eddf27"/>
<rect x="960.31" y="843.48" width="17.20" height="19.4" fill="#eddf27"/>
<rect x="978.40" y="843.48" width="18.80" height="19.4" fill="#d3d1d3"/>
<rect x="254.80" y="864.21" width="17.20" height="19.4" fill="#d3d1d3"/>
<rect x="272.89" y="864.21" width="17.20" height="19.4" fill="#d3d1d3"/>
<rect x="290.98" y="864.21" width="17.20" height="19.4" fill="#d3d1d3"/>
<rect x="309.07" y="864.21" width="17.20" height="19.4" fill="#d3d1d3"/>
<rect x="327.16" y="864.21" width="17.20" height="19.4" fill="#d3d1d3"/>
<rect x="345.25" y="864.21" width="17.20" height="19.4" fill="#d3d1d3"/>
<rect x="363.34" y="864.21" width="17.20" height="19.4" fill="#d3d1d3"/>
<rect x="381.43" y="864.21" width="17.20" height="19.4" fill="#d3d1d3"/>
<rect x="399.52" y="864.21" width="17.20" height="19.4" fill="#d3d1d3"/>
<rect x="417.61" y="864.21" width="17.20" height="19.4" fill="#d3d1d3"/>
<rect x="435.70" y="864.21" width="17.20" height="19.4" fill="#d3d1d3"/>
<rect x="453.79" y="864.21" width="17.20" height="19.4" fill="#d3d1d3"/>
<rect x="471.88" y="864.21" width="17.20" height="19.4" fill="#d3d1d3"/>
<rect x="489.97" y="864.21" width="17.20" height="19.4" fill="#d3d1d3"/>
<rect x="508.06" y="864.21" width="17.20" height="19.4" fill="#d3d1d3"/>
<rect x="526.15" y="864.21" width="17.20" height="19.4" fill="#d3d1d3"/>
<rect x="544.24" y="864.21" width="17.20" height="19.4" fill="#d3d1d3"/>
<rect x="562.33" y="864.21" width="17.20" height="19.4" fill="#d3d1d3"/>
<rect x="580.42" y="864.21" width="17.20" height="19.4" fill="#d3d1d3"/>
<rect x="598.51" y="864.21" width="17.20" height="19.4" fill="#d3d1d3"/>
<rect x="616.60" y="864.21" width="17.20" height="19.4" fill="#d3d1d3"/>
<rect x="634.69" y="864.21" width="17.20" height="19.4" fill="#d3d1d3"/>
<rect x="652.78" y="864.21" width="17.20" height="19.4" fill="#d3d1d3"/>
<rect x="670.87" y="864.21" width="17.20" height="19.4" fill="#d3d1d3"/>
<rect x="688.96" y="864.21" width="17.20" height="19.4" fill="#d3d1d3"/>
<rect x="707.05" y="864.21" width="17.20" height="19.4" fill="#d3d1d3"/>
<rect x="725.14" y="864.21" width="17.20" height="19.4" fill="#d3d1d3"/>
<rect x="743.23" y="864.21" width="17.20" height="19.4" fill="#dc2a2c"/>
<rect x="761.32" y="864.21" width="17.20" height="19.4" fill="#d3d1d3"/>
<rect x="779.41" y="864.21" width="17.20" height="19.4" fill="#d3d1d3"/>
<rect x="797.50" y="864.21" width="17.20" height="19.4" fill="#d3d1d3"/>
<rect x="815.59" y="864.21" width="17.20" height="19.4" fill="#d3d1d3"/>
<rect x="833.68" y="864.21" width="17.20" height="19.4" fill="#d3d1d3"/>
<rect x="851.77" y="864.21" width="17.20" height="19.4" fill="#d3d1d3"/>
<rect x="869.86" y="864.21" width="17.20" height="19.4" fill="#d3d1d3"/>
<rect x="887.95" y="864.21" width="17.20" height="19.4" fill="#d3d1d3"/>
<rect x="906.04" y="864.21" width="17.20" height="19.4" fill="#d3d1d3"/>
<rect x="924.13" y="864.21" width="17.20" height="19.4" fill="#d3d1d3"/>
<rect x="942.22" y="864.21" width="17.20" height="19.4" fill="#d3d1d3"/>
<rect x="960.31" y="864.21" width="17.20" height="19.4" fill="#d3d1d3"/>
<rect x="978.40" y="864.21" width="18.80" height="19.4" fill="#d3d1d3"/>
<rect x="254.80" y="884.95" width="17.20" height="19.4" fill="#d3d1d3"/>
<rect x="272.89" y="884.95" width="17.20" height="19.4" fill="#d3d1d3"/>
<rect x="290.98" y="884.95" width="17.20" height="19.4" fill="#d3d1d3"/>
<rect x="309.07" y="884.95" width="17.20" height="19.4" fill="#d3d1d3"/>
<rect x="327.16" y="884.95" width="17.20" height="19.4" fill="#eddf27"/>
<rect x="345.25" y="884.95" width="17.20" height="19.4" fill="#d3d1d3"/>
<rect x="363.34" y="884.95" width="17.20" height="19.4" fill="#d3d1d3"/>
<rect x="381.43" y="884.95" width="17.20" height="19.4" fill="#d3d1d3"/>
<rect x="399.52" y="884.95" width="17.20" height="19.4" fill="#eddf27"/>
<rect x="417.61" y="884.95" width="17.20" height="19.4" fill="#d3d1d3"/>
<rect x="435.70" y="884.95" width="17.20" height="19.4" fill="#eddf27"/>
<rect x="453.79" y="884.95" width="17.20" height="19.4" fill="#d3d1d3"/>
<rect x="471.88" y="884.95" width="17.20" height="19.4" fill="#d3d1d3"/>
<rect x="489.97" y="884.95" width="17.20" height="19.4" fill="#eddf27"/>
<rect x="508.06" y="884.95" width="17.20" height="19.4" fill="#eddf27"/>
<rect x="526.15" y="884.95" width="17.20" height="19.4" fill="#d3d1d3"/>
<rect x="544.24" y="884.95" width="17.20" height="19.4" fill="#d3d1d3"/>
<rect x="562.33" y="884.95" width="17.20" height="19.4" fill="#d3d1d3"/>
<rect x="580.42" y="884.95" width="17.20" height="19.4" fill="#eddf27"/>
<rect x="598.51" y="884.95" width="17.20" height="19.4" fill="#eddf27"/>
<rect x="616.60" y="884.95" width="17.20" height="19.4" fill="#eddf27"/>
<rect x="634.69" y="884.95" width="17.20" height="19.4" fill="#eddf27"/>
<rect x="652.78" y="884.95" width="17.20" height="19.4" fill="#d3d1d3"/>
<rect x="670.87" y="884.95" width="17.20" height="19.4" fill="#eddf27"/>
<rect x="688.96" y="884.95" width="17.20" height="19.4" fill="#eddf27"/>
<rect x="707.05" y="884.95" width="17.20" height="19.4" fill="#d3d1d3"/>
<rect x="725.14" y="884.95" width="17.20" height="19.4" fill="#eddf27"/>
<rect x="743.23" y="884.95" width="17.20" height="19.4" fill="#eddf27"/>
<rect x="761.32" y="884.95" width="17.20" height="19.4" fill="#eddf27"/>
<rect x="779.41" y="884.95" width="17.20" height="19.4" fill="#eddf27"/>
<rect x="797.50" y="884.95" width="17.20" height="19.4" fill="#eddf27"/>
<rect x="815.59" y="884.95" width="17.20" height="19.4" fill="#d3d1d3"/>
<rect x="833.68" y="884.95" width="17.20" height="19.4" fill="#eddf27"/>
<rect x="851.77" y="884.95" width="17.20" height="19.4" fill="#d3d1d3"/>
<rect x="869.86" y="884.95" width="17.20" height="19.4" fill="#eddf27"/>
<rect x="887.95" y="884.95" width="17.20" height="19.4" fill="#d3d1d3"/>
<rect x="906.04" y="884.95" width="17.20" height="19.4" fill="#eddf27"/>
<rect x="924.13" y="884.95" width="17.20" height="19.4" fill="#f2da20"/>
<rect x="942.22" y="884.95" width="17.20" height="19.4" fill="#f2da20"/>
<rect x="960.31" y="884.95" width="17.20" height="19.4" fill="#eddf27"/>
<rect x="978.40" y="884.95" width="18.80" height="19.4" fill="#eddf27"/>
<rect x="254.80" y="905.68" width="17.20" height="19.4" fill="#d3d1d3"/>
<rect x="272.89" y="905.68" width="17.20" height="19.4" fill="#d3d1d3"/>
<rect x="290.98" y="905.68" width="17.20" height="19.4" fill="#d3d1d3"/>
<rect x="309.07" y="905.68" width="17.20" height="19.4" fill="#d3d1d3"/>
<rect x="327.16" y="905.68" width="17.20" height="19.4" fill="#d3d1d3"/>
<rect x="345.25" y="905.68" width="17.20" height="19.4" fill="#d3d1d3"/>
<rect x="363.34" y="905.68" width="17.20" height="19.4" fill="#d3d1d3"/>
<rect x="381.43" y="905.68" width="17.20" height="19.4" fill="#d3d1d3"/>
<rect x="399.52" y="905.68" width="17.20" height="19.4" fill="#d3d1d3"/>
<rect x="417.61" y="905.68" width="17.20" height="19.4" fill="#d3d1d3"/>
<rect x="435.70" y="905.68" width="17.20" height="19.4" fill="#d3d1d3"/>
<rect x="453.79" y="905.68" width="17.20" height="19.4" fill="#d3d1d3"/>
<rect x="471.88" y="905.68" width="17.20" height="19.4" fill="#d3d1d3"/>
<rect x="489.97" y="905.68" width="17.20" height="19.4" fill="#d3d1d3"/>
<rect x="508.06" y="905.68" width="17.20" height="19.4" fill="#d3d1d3"/>
<rect x="526.15" y="905.68" width="17.20" height="19.4" fill="#d3d1d3"/>
<rect x="544.24" y="905.68" width="17.20" height="19.4" fill="#d3d1d3"/>
<rect x="562.33" y="905.68" width="17.20" height="19.4" fill="#d3d1d3"/>
<rect x="580.42" y="905.68" width="17.20" height="19.4" fill="#d3d1d3"/>
<rect x="598.51" y="905.68" width="17.20" height="19.4" fill="#d3d1d3"/>
<rect x="616.60" y="905.68" width="17.20" height="19.4" fill="#d3d1d3"/>
<rect x="634.69" y="905.68" width="17.20" height="19.4" fill="#d3d1d3"/>
<rect x="652.78" y="905.68" width="17.20" height="19.4" fill="#d3d1d3"/>
<rect x="670.87" y="905.68" width="17.20" height="19.4" fill="#d3d1d3"/>
<rect x="688.96" y="905.68" width="17.20" height="19.4" fill="#d3d1d3"/>
<rect x="707.05" y="905.68" width="17.20" height="19.4" fill="#d3d1d3"/>
<rect x="725.14" y="905.68" width="17.20" height="19.4" fill="#d3d1d3"/>
<rect x="743.23" y="905.68" width="17.20" height="19.4" fill="#dc2a2c"/>
<rect x="761.32" y="905.68" width="17.20" height="19.4" fill="#d3d1d3"/>
<rect x="779.41" y="905.68" width="17.20" height="19.4" fill="#d3d1d3"/>
<rect x="797.50" y="905.68" width="17.20" height="19.4" fill="#d3d1d3"/>
<rect x="815.59" y="905.68" width="17.20" height="19.4" fill="#d3d1d3"/>
<rect x="833.68" y="905.68" width="17.20" height="19.4" fill="#d3d1d3"/>
<rect x="851.77" y="905.68" width="17.20" height="19.4" fill="#d3d1d3"/>
<rect x="869.86" y="905.68" width="17.20" height="19.4" fill="#d3d1d3"/>
<rect x="887.95" y="905.68" width="17.20" height="19.4" fill="#d3d1d3"/>
<rect x="906.04" y="905.68" width="17.20" height="19.4" fill="#d3d1d3"/>
<rect x="924.13" y="905.68" width="17.20" height="19.4" fill="#d3d1d3"/>
<rect x="942.22" y="905.68" width="17.20" height="19.4" fill="#d3d1d3"/>
<rect x="960.31" y="905.68" width="17.20" height="19.4" fill="#d3d1d3"/>
<rect x="978.40" y="905.68" width="18.80" height="19.4" fill="#d3d1d3"/>
<rect x="254.80" y="926.41" width="17.20" height="19.4" fill="#d3d1d3"/>
<rect x="272.89" y="926.41" width="17.20" height="19.4" fill="#d3d1d3"/>
<rect x="290.98" y="926.41" width="17.20" height="19.4" fill="#d3d1d3"/>
<rect x="309.07" y="926.41" width="17.20" height="19.4" fill="#d3d1d3"/>
<rect x="327.16" y="926.41" width="17.20" height="19.4" fill="#d3d1d3"/>
<rect x="345.25" y="926.41" width="17.20" height="19.4" fill="#d3d1d3"/>
<rect x="363.34" y="926.41" width="17.20" height="19.4" fill="#d3d1d3"/>
<rect x="381.43" y="926.41" width="17.20" height="19.4" fill="#d3d1d3"/>
<rect x="399.52" y="926.41" width="17.20" height="19.4" fill="#d3d1d3"/>
<rect x="417.61" y="926.41" width="17.20" height="19.4" fill="#d3d1d3"/>
<rect x="435.70" y="926.41" width="17.20" height="19.4" fill="#d3d1d3"/>
<rect x="453.79" y="926.41" width="17.20" height="19.4" fill="#d3d1d3"/>
<rect x="471.88" y="926.41" width="17.20" height="19.4" fill="#d3d1d3"/>
<rect x="489.97" y="926.41" width="17.20" height="19.4" fill="#d3d1d3"/>
<rect x="508.06" y="926.41" width="17.20" height="19.4" fill="#d3d1d3"/>
<rect x="526.15" y="926.41" width="17.20" height="19.4" fill="#d3d1d3"/>
<rect x="544.24" y="926.41" width="17.20" height="19.4" fill="#d3d1d3"/>
<rect x="562.33" y="926.41" width="17.20" height="19.4" fill="#d3d1d3"/>
<rect x="580.42" y="926.41" width="17.20" height="19.4" fill="#d3d1d3"/>
<rect x="598.51" y="926.41" width="17.20" height="19.4" fill="#d3d1d3"/>
<rect x="616.60" y="926.41" width="17.20" height="19.4" fill="#d3d1d3"/>
<rect x="634.69" y="926.41" width="17.20" height="19.4" fill="#d3d1d3"/>
<rect x="652.78" y="926.41" width="17.20" height="19.4" fill="#d3d1d3"/>
<rect x="670.87" y="926.41" width="17.20" height="19.4" fill="#d3d1d3"/>
<rect x="688.96" y="926.41" width="17.20" height="19.4" fill="#d3d1d3"/>
<rect x="707.05" y="926.41" width="17.20" height="19.4" fill="#d3d1d3"/>
<rect x="725.14" y="926.41" width="17.20" height="19.4" fill="#d3d1d3"/>
<rect x="743.23" y="926.41" width="17.20" height="19.4" fill="#d3d1d3"/>
<rect x="761.32" y="926.41" width="17.20" height="19.4" fill="#d3d1d3"/>
<rect x="779.41" y="926.41" width="17.20" height="19.4" fill="#d3d1d3"/>
<rect x="797.50" y="926.41" width="17.20" height="19.4" fill="#d3d1d3"/>
<rect x="815.59" y="926.41" width="17.20" height="19.4" fill="#d3d1d3"/>
<rect x="833.68" y="926.41" width="17.20" height="19.4" fill="#d3d1d3"/>
<rect x="851.77" y="926.41" width="17.20" height="19.4" fill="#d3d1d3"/>
<rect x="869.86" y="926.41" width="17.20" height="19.4" fill="#d3d1d3"/>
<rect x="887.95" y="926.41" width="17.20" height="19.4" fill="#d3d1d3"/>
<rect x="906.04" y="926.41" width="17.20" height="19.4" fill="#d3d1d3"/>
<rect x="924.13" y="926.41" width="17.20" height="19.4" fill="#d3d1d3"/>
<rect x="942.22" y="926.41" width="17.20" height="19.4" fill="#d3d1d3"/>
<rect x="960.31" y="926.41" width="17.20" height="19.4" fill="#d3d1d3"/>
<rect x="978.40" y="926.41" width="18.80" height="19.4" fill="#d3d1d3"/>
<rect x="254.80" y="947.15" width="17.20" height="19.4" fill="#d3d1d3"/>
<rect x="272.89" y="947.15" width="17.20" height="19.4" fill="#d3d1d3"/>
<rect x="290.98" y="947.15" width="17.20" height="19.4" fill="#d3d1d3"/>
<rect x="309.07" y="947.15" width="17.20" height="19.4" fill="#d3d1d3"/>
<rect x="327.16" y="947.15" width="17.20" height="19.4" fill="#d3d1d3"/>
<rect x="345.25" y="947.15" width="17.20" height="19.4" fill="#d3d1d3"/>
<rect x="363.34" y="947.15" width="17.20" height="19.4" fill="#d3d1d3"/>
<rect x="381.43" y="947.15" width="17.20" height="19.4" fill="#d3d1d3"/>
<rect x="399.52" y="947.15" width="17.20" height="19.4" fill="#d3d1d3"/>
<rect x="417.61" y="947.15" width="17.20" height="19.4" fill="#d3d1d3"/>
<rect x="435.70" y="947.15" width="17.20" height="19.4" fill="#d3d1d3"/>
<rect x="453.79" y="947.15" width="17.20" height="19.4" fill="#d3d1d3"/>
<rect x="471.88" y="947.15" width="17.20" height="19.4" fill="#d3d1d3"/>
<rect x="489.97" y="947.15" width="17.20" height="19.4" fill="#d3d1d3"/>
<rect x="508.06" y="947.15" width="17.20" height="19.4" fill="#d3d1d3"/>
<rect x="526.15" y="947.15" width="17.20" height="19.4" fill="#d3d1d3"/>
<rect x="544.24" y="947.15" width="17.20" height="19.4" fill="#d3d1d3"/>
<rect x="562.33" y="947.15" width="17.20" height="19.4" fill="#d3d1d3"/>
<rect x="580.42" y="947.15" width="17.20" height="19.4" fill="#d3d1d3"/>
<rect x="598.51" y="947.15" width="17.20" height="19.4" fill="#d3d1d3"/>
<rect x="616.60" y="947.15" width="17.20" height="19.4" fill="#d3d1d3"/>
<rect x="634.69" y="947.15" width="17.20" height="19.4" fill="#d3d1d3"/>
<rect x="652.78" y="947.15" width="17.20" height="19.4" fill="#d3d1d3"/>
<rect x="670.87" y="947.15" width="17.20" height="19.4" fill="#d3d1d3"/>
<rect x="688.96" y="947.15" width="17.20" height="19.4" fill="#d3d1d3"/>
<rect x="707.05" y="947.15" width="17.20" height="19.4" fill="#d3d1d3"/>
<rect x="725.14" y="947.15" width="17.20" height="19.4" fill="#d3d1d3"/>
<rect x="743.23" y="947.15" width="17.20" height="19.4" fill="#d3d1d3"/>
<rect x="761.32" y="947.15" width="17.20" height="19.4" fill="#d3d1d3"/>
<rect x="779.41" y="947.15" width="17.20" height="19.4" fill="#d3d1d3"/>
<rect x="797.50" y="947.15" width="17.20" height="19.4" fill="#d3d1d3"/>
<rect x="815.59" y="947.15" width="17.20" height="19.4" fill="#d3d1d3"/>
<rect x="833.68" y="947.15" width="17.20" height="19.4" fill="#d3d1d3"/>
<rect x="851.77" y="947.15" width="17.20" height="19.4" fill="#d3d1d3"/>
<rect x="869.86" y="947.15" width="17.20" height="19.4" fill="#d3d1d3"/>
<rect x="887.95" y="947.15" width="17.20" height="19.4" fill="#d3d1d3"/>
<rect x="906.04" y="947.15" width="17.20" height="19.4" fill="#d3d1d3"/>
<rect x="924.13" y="947.15" width="17.20" height="19.4" fill="#d3d1d3"/>
<rect x="942.22" y="947.15" width="17.20" height="19.4" fill="#d3d1d3"/>
<rect x="960.31" y="947.15" width="17.20" height="19.4" fill="#d3d1d3"/>
<rect x="978.40" y="947.15" width="18.80" height="19.4" fill="#d3d1d3"/>
<rect x="254.80" y="967.88" width="17.20" height="19.4" fill="#d3d1d3"/>
<rect x="272.89" y="967.88" width="17.20" height="19.4" fill="#d3d1d3"/>
<rect x="290.98" y="967.88" width="17.20" height="19.4" fill="#d3d1d3"/>
<rect x="309.07" y="967.88" width="17.20" height="19.4" fill="#d3d1d3"/>
<rect x="327.16" y="967.88" width="17.20" height="19.4" fill="#d3d1d3"/>
<rect x="345.25" y="967.88" width="17.20" height="19.4" fill="#d3d1d3"/>
<rect x="363.34" y="967.88" width="17.20" height="19.4" fill="#d3d1d3"/>
<rect x="381.43" y="967.88" width="17.20" height="19.4" fill="#d3d1d3"/>
<rect x="399.52" y="967.88" width="17.20" height="19.4" fill="#d3d1d3"/>
<rect x="417.61" y="967.88" width="17.20" height="19.4" fill="#d3d1d3"/>
<rect x="435.70" y="967.88" width="17.20" height="19.4" fill="#d3d1d3"/>
<rect x="453.79" y="967.88" width="17.20" height="19.4" fill="#d3d1d3"/>
<rect x="471.88" y="967.88" width="17.20" height="19.4" fill="#d3d1d3"/>
<rect x="489.97" y="967.88" width="17.20" height="19.4" fill="#d3d1d3"/>
<rect x="508.06" y="967.88" width="17.20" height="19.4" fill="#d3d1d3"/>
<rect x="526.15" y="967.88" width="17.20" height="19.4" fill="#d3d1d3"/>
<rect x="544.24" y="967.88" width="17.20" height="19.4" fill="#d3d1d3"/>
<rect x="562.33" y="967.88" width="17.20" height="19.4" fill="#d3d1d3"/>
<rect x="580.42" y="967.88" width="17.20" height="19.4" fill="#d3d1d3"/>
<rect x="598.51" y="967.88" width="17.20" height="19.4" fill="#d3d1d3"/>
<rect x="616.60" y="967.88" width="17.20" height="19.4" fill="#d3d1d3"/>
<rect x="634.69" y="967.88" width="17.20" height="19.4" fill="#d3d1d3"/>
<rect x="652.78" y="967.88" width="17.20" height="19.4" fill="#d3d1d3"/>
<rect x="670.87" y="967.88" width="17.20" height="19.4" fill="#d3d1d3"/>
<rect x="688.96" y="967.88" width="17.20" height="19.4" fill="#d3d1d3"/>
<rect x="707.05" y="967.88" width="17.20" height="19.4" fill="#d3d1d3"/>
<rect x="725.14" y="967.88" width="17.20" height="19.4" fill="#d3d1d3"/>
<rect x="743.23" y="967.88" width="17.20" height="19.4" fill="#dc2a2c"/>
<rect x="761.32" y="967.88" width="17.20" height="19.4" fill="#d3d1d3"/>
<rect x="779.41" y="967.88" width="17.20" height="19.4" fill="#d3d1d3"/>
<rect x="797.50" y="967.88" width="17.20" height="19.4" fill="#d3d1d3"/>
<rect x="815.59" y="967.88" width="17.20" height="19.4" fill="#d3d1d3"/>
<rect x="833.68" y="967.88" width="17.20" height="19.4" fill="#d3d1d3"/>
<rect x="851.77" y="967.88" width="17.20" height="19.4" fill="#d3d1d3"/>
<rect x="869.86" y="967.88" width="17.20" height="19.4" fill="#d3d1d3"/>
<rect x="887.95" y="967.88" width="17.20" height="19.4" fill="#d3d1d3"/>
<rect x="906.04" y="967.88" width="17.20" height="19.4" fill="#d3d1d3"/>
<rect x="924.13" y="967.88" width="17.20" height="19.4" fill="#eddf27"/>
<rect x="942.22" y="967.88" width="17.20" height="19.4" fill="#d3d1d3"/>
<rect x="960.31" y="967.88" width="17.20" height="19.4" fill="#d3d1d3"/>
<rect x="978.40" y="967.88" width="18.80" height="19.4" fill="#d3d1d3"/>
<rect x="254.80" y="988.61" width="17.20" height="19.4" fill="#d3d1d3"/>
<rect x="272.89" y="988.61" width="17.20" height="19.4" fill="#d3d1d3"/>
<rect x="290.98" y="988.61" width="17.20" height="19.4" fill="#d3d1d3"/>
<rect x="309.07" y="988.61" width="17.20" height="19.4" fill="#d3d1d3"/>
<rect x="327.16" y="988.61" width="17.20" height="19.4" fill="#d3d1d3"/>
<rect x="345.25" y="988.61" width="17.20" height="19.4" fill="#d3d1d3"/>
<rect x="363.34" y="988.61" width="17.20" height="19.4" fill="#d3d1d3"/>
<rect x="381.43" y="988.61" width="17.20" height="19.4" fill="#d3d1d3"/>
<rect x="399.52" y="988.61" width="17.20" height="19.4" fill="#d3d1d3"/>
<rect x="417.61" y="988.61" width="17.20" height="19.4" fill="#d3d1d3"/>
<rect x="435.70" y="988.61" width="17.20" height="19.4" fill="#d3d1d3"/>
<rect x="453.79" y="988.61" width="17.20" height="19.4" fill="#d3d1d3"/>
<rect x="471.88" y="988.61" width="17.20" height="19.4" fill="#d3d1d3"/>
<rect x="489.97" y="988.61" width="17.20" height="19.4" fill="#d3d1d3"/>
<rect x="508.06" y="988.61" width="17.20" height="19.4" fill="#d3d1d3"/>
<rect x="526.15" y="988.61" width="17.20" height="19.4" fill="#d3d1d3"/>
<rect x="544.24" y="988.61" width="17.20" height="19.4" fill="#d3d1d3"/>
<rect x="562.33" y="988.61" width="17.20" height="19.4" fill="#d3d1d3"/>
<rect x="580.42" y="988.61" width="17.20" height="19.4" fill="#d3d1d3"/>
<rect x="598.51" y="988.61" width="17.20" height="19.4" fill="#d3d1d3"/>
<rect x="616.60" y="988.61" width="17.20" height="19.4" fill="#d3d1d3"/>
<rect x="634.69" y="988.61" width="17.20" height="19.4" fill="#d3d1d3"/>
<rect x="652.78" y="988.61" width="17.20" height="19.4" fill="#d3d1d3"/>
<rect x="670.87" y="988.61" width="17.20" height="19.4" fill="#d3d1d3"/>
<rect x="688.96" y="988.61" width="17.20" height="19.4" fill="#d3d1d3"/>
<rect x="707.05" y="988.61" width="17.20" height="19.4" fill="#d3d1d3"/>
<rect x="725.14" y="988.61" width="17.20" height="19.4" fill="#d3d1d3"/>
<rect x="743.23" y="988.61" width="17.20" height="19.4" fill="#dc2a2c"/>
<rect x="761.32" y="988.61" width="17.20" height="19.4" fill="#d3d1d3"/>
<rect x="779.41" y="988.61" width="17.20" height="19.4" fill="#d3d1d3"/>
<rect x="797.50" y="988.61" width="17.20" height="19.4" fill="#d3d1d3"/>
<rect x="815.59" y="988.61" width="17.20" height="19.4" fill="#d3d1d3"/>
<rect x="833.68" y="988.61" width="17.20" height="19.4" fill="#d3d1d3"/>
<rect x="851.77" y="988.61" width="17.20" height="19.4" fill="#d3d1d3"/>
<rect x="869.86" y="988.61" width="17.20" height="19.4" fill="#d3d1d3"/>
<rect x="887.95" y="988.61" width="17.20" height="19.4" fill="#d3d1d3"/>
<rect x="906.04" y="988.61" width="17.20" height="19.4" fill="#d3d1d3"/>
<rect x="924.13" y="988.61" width="17.20" height="19.4" fill="#d3d1d3"/>
<rect x="942.22" y="988.61" width="17.20" height="19.4" fill="#d3d1d3"/>
<rect x="960.31" y="988.61" width="17.20" height="19.4" fill="#d3d1d3"/>
<rect x="978.40" y="988.61" width="18.80" height="19.4" fill="#d3d1d3"/>
<rect x="254.80" y="1009.35" width="17.20" height="19.4" fill="#d3d1d3"/>
<rect x="272.89" y="1009.35" width="17.20" height="19.4" fill="#d3d1d3"/>
<rect x="290.98" y="1009.35" width="17.20" height="19.4" fill="#d3d1d3"/>
<rect x="309.07" y="1009.35" width="17.20" height="19.4" fill="#d3d1d3"/>
<rect x="327.16" y="1009.35" width="17.20" height="19.4" fill="#d3d1d3"/>
<rect x="345.25" y="1009.35" width="17.20" height="19.4" fill="#d3d1d3"/>
<rect x="363.34" y="1009.35" width="17.20" height="19.4" fill="#d3d1d3"/>
<rect x="381.43" y="1009.35" width="17.20" height="19.4" fill="#d3d1d3"/>
<rect x="399.52" y="1009.35" width="17.20" height="19.4" fill="#d3d1d3"/>
<rect x="417.61" y="1009.35" width="17.20" height="19.4" fill="#d3d1d3"/>
<rect x="435.70" y="1009.35" width="17.20" height="19.4" fill="#d3d1d3"/>
<rect x="453.79" y="1009.35" width="17.20" height="19.4" fill="#d3d1d3"/>
<rect x="471.88" y="1009.35" width="17.20" height="19.4" fill="#d3d1d3"/>
<rect x="489.97" y="1009.35" width="17.20" height="19.4" fill="#d3d1d3"/>
<rect x="508.06" y="1009.35" width="17.20" height="19.4" fill="#d3d1d3"/>
<rect x="526.15" y="1009.35" width="17.20" height="19.4" fill="#d3d1d3"/>
<rect x="544.24" y="1009.35" width="17.20" height="19.4" fill="#d3d1d3"/>
<rect x="562.33" y="1009.35" width="17.20" height="19.4" fill="#d3d1d3"/>
<rect x="580.42" y="1009.35" width="17.20" height="19.4" fill="#d3d1d3"/>
<rect x="598.51" y="1009.35" width="17.20" height="19.4" fill="#d3d1d3"/>
<rect x="616.60" y="1009.35" width="17.20" height="19.4" fill="#d3d1d3"/>
<rect x="634.69" y="1009.35" width="17.20" height="19.4" fill="#d3d1d3"/>
<rect x="652.78" y="1009.35" width="17.20" height="19.4" fill="#d3d1d3"/>
<rect x="670.87" y="1009.35" width="17.20" height="19.4" fill="#d3d1d3"/>
<rect x="688.96" y="1009.35" width="17.20" height="19.4" fill="#d3d1d3"/>
<rect x="707.05" y="1009.35" width="17.20" height="19.4" fill="#d3d1d3"/>
<rect x="725.14" y="1009.35" width="17.20" height="19.4" fill="#d3d1d3"/>
<rect x="743.23" y="1009.35" width="17.20" height="19.4" fill="#dc2a2c"/>
<rect x="761.32" y="1009.35" width="17.20" height="19.4" fill="#d3d1d3"/>
<rect x="779.41" y="1009.35" width="17.20" height="19.4" fill="#d3d1d3"/>
<rect x="797.50" y="1009.35" width="17.20" height="19.4" fill="#d3d1d3"/>
<rect x="815.59" y="1009.35" width="17.20" height="19.4" fill="#d3d1d3"/>
<rect x="833.68" y="1009.35" width="17.20" height="19.4" fill="#d3d1d3"/>
<rect x="851.77" y="1009.35" width="17.20" height="19.4" fill="#d3d1d3"/>
<rect x="869.86" y="1009.35" width="17.20" height="19.4" fill="#d3d1d3"/>
<rect x="887.95" y="1009.35" width="17.20" height="19.4" fill="#d3d1d3"/>
<rect x="906.04" y="1009.35" width="17.20" height="19.4" fill="#d3d1d3"/>
<rect x="924.13" y="1009.35" width="17.20" height="19.4" fill="#d3d1d3"/>
<rect x="942.22" y="1009.35" width="17.20" height="19.4" fill="#d3d1d3"/>
<rect x="960.31" y="1009.35" width="17.20" height="19.4" fill="#d3d1d3"/>
<rect x="978.40" y="1009.35" width="18.80" height="19.4" fill="#d3d1d3"/>
<rect x="254.80" y="1030.08" width="17.20" height="19.4" fill="#d3d1d3"/>
<rect x="272.89" y="1030.08" width="17.20" height="19.4" fill="#d3d1d3"/>
<rect x="290.98" y="1030.08" width="17.20" height="19.4" fill="#d3d1d3"/>
<rect x="309.07" y="1030.08" width="17.20" height="19.4" fill="#d3d1d3"/>
<rect x="327.16" y="1030.08" width="17.20" height="19.4" fill="#d3d1d3"/>
<rect x="345.25" y="1030.08" width="17.20" height="19.4" fill="#d3d1d3"/>
<rect x="363.34" y="1030.08" width="17.20" height="19.4" fill="#d3d1d3"/>
<rect x="381.43" y="1030.08" width="17.20" height="19.4" fill="#d3d1d3"/>
<rect x="399.52" y="1030.08" width="17.20" height="19.4" fill="#d3d1d3"/>
<rect x="417.61" y="1030.08" width="17.20" height="19.4" fill="#d3d1d3"/>
<rect x="435.70" y="1030.08" width="17.20" height="19.4" fill="#d3d1d3"/>
<rect x="453.79" y="1030.08" width="17.20" height="19.4" fill="#d3d1d3"/>
<rect x="471.88" y="1030.08" width="17.20" height="19.4" fill="#d3d1d3"/>
<rect x="489.97" y="1030.08" width="17.20" height="19.4" fill="#d3d1d3"/>
<rect x="508.06" y="1030.08" width="17.20" height="19.4" fill="#d3d1d3"/>
<rect x="526.15" y="1030.08" width="17.20" height="19.4" fill="#d3d1d3"/>
<rect x="544.24" y="1030.08" width="17.20" height="19.4" fill="#d3d1d3"/>
<rect x="562.33" y="1030.08" width="17.20" height="19.4" fill="#d3d1d3"/>
<rect x="580.42" y="1030.08" width="17.20" height="19.4" fill="#d3d1d3"/>
<rect x="598.51" y="1030.08" width="17.20" height="19.4" fill="#d3d1d3"/>
<rect x="616.60" y="1030.08" width="17.20" height="19.4" fill="#d3d1d3"/>
<rect x="634.69" y="1030.08" width="17.20" height="19.4" fill="#d3d1d3"/>
<rect x="652.78" y="1030.08" width="17.20" height="19.4" fill="#d3d1d3"/>
<rect x="670.87" y="1030.08" width="17.20" height="19.4" fill="#d3d1d3"/>
<rect x="688.96" y="1030.08" width="17.20" height="19.4" fill="#d3d1d3"/>
<rect x="707.05" y="1030.08" width="17.20" height="19.4" fill="#d3d1d3"/>
<rect x="725.14" y="1030.08" width="17.20" height="19.4" fill="#d3d1d3"/>
<rect x="743.23" y="1030.08" width="17.20" height="19.4" fill="#dc2a2c"/>
<rect x="761.32" y="1030.08" width="17.20" height="19.4" fill="#d3d1d3"/>
<rect x="779.41" y="1030.08" width="17.20" height="19.4" fill="#d3d1d3"/>
<rect x="797.50" y="1030.08" width="17.20" height="19.4" fill="#d3d1d3"/>
<rect x="815.59" y="1030.08" width="17.20" height="19.4" fill="#d3d1d3"/>
<rect x="833.68" y="1030.08" width="17.20" height="19.4" fill="#d3d1d3"/>
<rect x="851.77" y="1030.08" width="17.20" height="19.4" fill="#d3d1d3"/>
<rect x="869.86" y="1030.08" width="17.20" height="19.4" fill="#d3d1d3"/>
<rect x="887.95" y="1030.08" width="17.20" height="19.4" fill="#d3d1d3"/>
<rect x="906.04" y="1030.08" width="17.20" height="19.4" fill="#d3d1d3"/>
<rect x="924.13" y="1030.08" width="17.20" height="19.4" fill="#d3d1d3"/>
<rect x="942.22" y="1030.08" width="17.20" height="19.4" fill="#d3d1d3"/>
<rect x="960.31" y="1030.08" width="17.20" height="19.4" fill="#d3d1d3"/>
<rect x="978.40" y="1030.08" width="18.80" height="19.4" fill="#d3d1d3"/>
<rect x="254.80" y="1050.81" width="17.20" height="19.4" fill="#d3d1d3"/>
<rect x="272.89" y="1050.81" width="17.20" height="19.4" fill="#d3d1d3"/>
<rect x="290.98" y="1050.81" width="17.20" height="19.4" fill="#d3d1d3"/>
<rect x="309.07" y="1050.81" width="17.20" height="19.4" fill="#d3d1d3"/>
<rect x="327.16" y="1050.81" width="17.20" height="19.4" fill="#d3d1d3"/>
<rect x="345.25" y="1050.81" width="17.20" height="19.4" fill="#d3d1d3"/>
<rect x="363.34" y="1050.81" width="17.20" height="19.4" fill="#d3d1d3"/>
<rect x="381.43" y="1050.81" width="17.20" height="19.4" fill="#d3d1d3"/>
<rect x="399.52" y="1050.81" width="17.20" height="19.4" fill="#d3d1d3"/>
<rect x="417.61" y="1050.81" width="17.20" height="19.4" fill="#d3d1d3"/>
<rect x="435.70" y="1050.81" width="17.20" height="19.4" fill="#d3d1d3"/>
<rect x="453.79" y="1050.81" width="17.20" height="19.4" fill="#d3d1d3"/>
<rect x="471.88" y="1050.81" width="17.20" height="19.4" fill="#d3d1d3"/>
<rect x="489.97" y="1050.81" width="17.20" height="19.4" fill="#d3d1d3"/>
<rect x="508.06" y="1050.81" width="17.20" height="19.4" fill="#d3d1d3"/>
<rect x="526.15" y="1050.81" width="17.20" height="19.4" fill="#d3d1d3"/>
<rect x="544.24" y="1050.81" width="17.20" height="19.4" fill="#d3d1d3"/>
<rect x="562.33" y="1050.81" width="17.20" height="19.4" fill="#d3d1d3"/>
<rect x="580.42" y="1050.81" width="17.20" height="19.4" fill="#d3d1d3"/>
<rect x="598.51" y="1050.81" width="17.20" height="19.4" fill="#d3d1d3"/>
<rect x="616.60" y="1050.81" width="17.20" height="19.4" fill="#d3d1d3"/>
<rect x="634.69" y="1050.81" width="17.20" height="19.4" fill="#d3d1d3"/>
<rect x="652.78" y="1050.81" width="17.20" height="19.4" fill="#d3d1d3"/>
<rect x="670.87" y="1050.81" width="17.20" height="19.4" fill="#d3d1d3"/>
<rect x="688.96" y="1050.81" width="17.20" height="19.4" fill="#d3d1d3"/>
<rect x="707.05" y="1050.81" width="17.20" height="19.4" fill="#d3d1d3"/>
<rect x="725.14" y="1050.81" width="17.20" height="19.4" fill="#d3d1d3"/>
<rect x="743.23" y="1050.81" width="17.20" height="19.4" fill="#dc2a2c"/>
<rect x="761.32" y="1050.81" width="17.20" height="19.4" fill="#d3d1d3"/>
<rect x="779.41" y="1050.81" width="17.20" height="19.4" fill="#d3d1d3"/>
<rect x="797.50" y="1050.81" width="17.20" height="19.4" fill="#d3d1d3"/>
<rect x="815.59" y="1050.81" width="17.20" height="19.4" fill="#d3d1d3"/>
<rect x="833.68" y="1050.81" width="17.20" height="19.4" fill="#d3d1d3"/>
<rect x="851.77" y="1050.81" width="17.20" height="19.4" fill="#d3d1d3"/>
<rect x="869.86" y="1050.81" width="17.20" height="19.4" fill="#d3d1d3"/>
<rect x="887.95" y="1050.81" width="17.20" height="19.4" fill="#d3d1d3"/>
<rect x="906.04" y="1050.81" width="17.20" height="19.4" fill="#d3d1d3"/>
<rect x="924.13" y="1050.81" width="17.20" height="19.4" fill="#d3d1d3"/>
<rect x="942.22" y="1050.81" width="17.20" height="19.4" fill="#d3d1d3"/>
<rect x="960.31" y="1050.81" width="17.20" height="19.4" fill="#d3d1d3"/>
<rect x="978.40" y="1050.81" width="18.80" height="19.4" fill="#d3d1d3"/>
<rect x="254.80" y="1071.54" width="17.20" height="19.4" fill="#d3d1d3"/>
<rect x="272.89" y="1071.54" width="17.20" height="19.4" fill="#d3d1d3"/>
<rect x="290.98" y="1071.54" width="17.20" height="19.4" fill="#d3d1d3"/>
<rect x="309.07" y="1071.54" width="17.20" height="19.4" fill="#d3d1d3"/>
<rect x="327.16" y="1071.54" width="17.20" height="19.4" fill="#d3d1d3"/>
<rect x="345.25" y="1071.54" width="17.20" height="19.4" fill="#d3d1d3"/>
<rect x="363.34" y="1071.54" width="17.20" height="19.4" fill="#d3d1d3"/>
<rect x="381.43" y="1071.54" width="17.20" height="19.4" fill="#d3d1d3"/>
<rect x="399.52" y="1071.54" width="17.20" height="19.4" fill="#d3d1d3"/>
<rect x="417.61" y="1071.54" width="17.20" height="19.4" fill="#d3d1d3"/>
<rect x="435.70" y="1071.54" width="17.20" height="19.4" fill="#d3d1d3"/>
<rect x="453.79" y="1071.54" width="17.20" height="19.4" fill="#d3d1d3"/>
<rect x="471.88" y="1071.54" width="17.20" height="19.4" fill="#d3d1d3"/>
<rect x="489.97" y="1071.54" width="17.20" height="19.4" fill="#d3d1d3"/>
<rect x="508.06" y="1071.54" width="17.20" height="19.4" fill="#d3d1d3"/>
<rect x="526.15" y="1071.54" width="17.20" height="19.4" fill="#d3d1d3"/>
<rect x="544.24" y="1071.54" width="17.20" height="19.4" fill="#d3d1d3"/>
<rect x="562.33" y="1071.54" width="17.20" height="19.4" fill="#d3d1d3"/>
<rect x="580.42" y="1071.54" width="17.20" height="19.4" fill="#d3d1d3"/>
<rect x="598.51" y="1071.54" width="17.20" height="19.4" fill="#d3d1d3"/>
<rect x="616.60" y="1071.54" width="17.20" height="19.4" fill="#d3d1d3"/>
<rect x="634.69" y="1071.54" width="17.20" height="19.4" fill="#d3d1d3"/>
<rect x="652.78" y="1071.54" width="17.20" height="19.4" fill="#d3d1d3"/>
<rect x="670.87" y="1071.54" width="17.20" height="19.4" fill="#d3d1d3"/>
<rect x="688.96" y="1071.54" width="17.20" height="19.4" fill="#d3d1d3"/>
<rect x="707.05" y="1071.54" width="17.20" height="19.4" fill="#d3d1d3"/>
<rect x="725.14" y="1071.54" width="17.20" height="19.4" fill="#d3d1d3"/>
<rect x="743.23" y="1071.54" width="17.20" height="19.4" fill="#dc2a2c"/>
<rect x="761.32" y="1071.54" width="17.20" height="19.4" fill="#d3d1d3"/>
<rect x="779.41" y="1071.54" width="17.20" height="19.4" fill="#d3d1d3"/>
<rect x="797.50" y="1071.54" width="17.20" height="19.4" fill="#d3d1d3"/>
<rect x="815.59" y="1071.54" width="17.20" height="19.4" fill="#d3d1d3"/>
<rect x="833.68" y="1071.54" width="17.20" height="19.4" fill="#d3d1d3"/>
<rect x="851.77" y="1071.54" width="17.20" height="19.4" fill="#d3d1d3"/>
<rect x="869.86" y="1071.54" width="17.20" height="19.4" fill="#d3d1d3"/>
<rect x="887.95" y="1071.54" width="17.20" height="19.4" fill="#d3d1d3"/>
<rect x="906.04" y="1071.54" width="17.20" height="19.4" fill="#d3d1d3"/>
<rect x="924.13" y="1071.54" width="17.20" height="19.4" fill="#d3d1d3"/>
<rect x="942.22" y="1071.54" width="17.20" height="19.4" fill="#d3d1d3"/>
<rect x="960.31" y="1071.54" width="17.20" height="19.4" fill="#d3d1d3"/>
<rect x="978.40" y="1071.54" width="18.80" height="19.4" fill="#d3d1d3"/>
<rect x="254.80" y="1092.28" width="17.20" height="19.4" fill="#d3d1d3"/>
<rect x="272.89" y="1092.28" width="17.20" height="19.4" fill="#d3d1d3"/>
<rect x="290.98" y="1092.28" width="17.20" height="19.4" fill="#d3d1d3"/>
<rect x="309.07" y="1092.28" width="17.20" height="19.4" fill="#d3d1d3"/>
<rect x="327.16" y="1092.28" width="17.20" height="19.4" fill="#d3d1d3"/>
<rect x="345.25" y="1092.28" width="17.20" height="19.4" fill="#d3d1d3"/>
<rect x="363.34" y="1092.28" width="17.20" height="19.4" fill="#d3d1d3"/>
<rect x="381.43" y="1092.28" width="17.20" height="19.4" fill="#d3d1d3"/>
<rect x="399.52" y="1092.28" width="17.20" height="19.4" fill="#d3d1d3"/>
<rect x="417.61" y="1092.28" width="17.20" height="19.4" fill="#d3d1d3"/>
<rect x="435.70" y="1092.28" width="17.20" height="19.4" fill="#d3d1d3"/>
<rect x="453.79" y="1092.28" width="17.20" height="19.4" fill="#d3d1d3"/>
<rect x="471.88" y="1092.28" width="17.20" height="19.4" fill="#d3d1d3"/>
<rect x="489.97" y="1092.28" width="17.20" height="19.4" fill="#d3d1d3"/>
<rect x="508.06" y="1092.28" width="17.20" height="19.4" fill="#d3d1d3"/>
<rect x="526.15" y="1092.28" width="17.20" height="19.4" fill="#d3d1d3"/>
<rect x="544.24" y="1092.28" width="17.20" height="19.4" fill="#d3d1d3"/>
<rect x="562.33" y="1092.28" width="17.20" height="19.4" fill="#d3d1d3"/>
<rect x="580.42" y="1092.28" width="17.20" height="19.4" fill="#d3d1d3"/>
<rect x="598.51" y="1092.28" width="17.20" height="19.4" fill="#d3d1d3"/>
<rect x="616.60" y="1092.28" width="17.20" height="19.4" fill="#d3d1d3"/>
<rect x="634.69" y="1092.28" width="17.20" height="19.4" fill="#d3d1d3"/>
<rect x="652.78" y="1092.28" width="17.20" height="19.4" fill="#f8d012"/>
<rect x="670.87" y="1092.28" width="17.20" height="19.4" fill="#d3d1d3"/>
<rect x="688.96" y="1092.28" width="17.20" height="19.4" fill="#eddf27"/>
<rect x="707.05" y="1092.28" width="17.20" height="19.4" fill="#d3d1d3"/>
<rect x="725.14" y="1092.28" width="17.20" height="19.4" fill="#d3d1d3"/>
<rect x="743.23" y="1092.28" width="17.20" height="19.4" fill="#ea6a28"/>
<rect x="761.32" y="1092.28" width="17.20" height="19.4" fill="#d3d1d3"/>
<rect x="779.41" y="1092.28" width="17.20" height="19.4" fill="#d3d1d3"/>
<rect x="797.50" y="1092.28" width="17.20" height="19.4" fill="#d3d1d3"/>
<rect x="815.59" y="1092.28" width="17.20" height="19.4" fill="#d3d1d3"/>
<rect x="833.68" y="1092.28" width="17.20" height="19.4" fill="#d3d1d3"/>
<rect x="851.77" y="1092.28" width="17.20" height="19.4" fill="#d3d1d3"/>
<rect x="869.86" y="1092.28" width="17.20" height="19.4" fill="#d3d1d3"/>
<rect x="887.95" y="1092.28" width="17.20" height="19.4" fill="#d3d1d3"/>
<rect x="906.04" y="1092.28" width="17.20" height="19.4" fill="#d3d1d3"/>
<rect x="924.13" y="1092.28" width="17.20" height="19.4" fill="#d3d1d3"/>
<rect x="942.22" y="1092.28" width="17.20" height="19.4" fill="#d3d1d3"/>
<rect x="960.31" y="1092.28" width="17.20" height="19.4" fill="#d3d1d3"/>
<rect x="978.40" y="1092.28" width="18.80" height="19.4" fill="#d3d1d3"/>
<rect x="254.80" y="1113.01" width="17.20" height="19.4" fill="#d3d1d3"/>
<rect x="272.89" y="1113.01" width="17.20" height="19.4" fill="#d3d1d3"/>
<rect x="290.98" y="1113.01" width="17.20" height="19.4" fill="#d3d1d3"/>
<rect x="309.07" y="1113.01" width="17.20" height="19.4" fill="#d3d1d3"/>
<rect x="327.16" y="1113.01" width="17.20" height="19.4" fill="#d3d1d3"/>
<rect x="345.25" y="1113.01" width="17.20" height="19.4" fill="#d3d1d3"/>
<rect x="363.34" y="1113.01" width="17.20" height="19.4" fill="#d3d1d3"/>
<rect x="381.43" y="1113.01" width="17.20" height="19.4" fill="#d3d1d3"/>
<rect x="399.52" y="1113.01" width="17.20" height="19.4" fill="#d3d1d3"/>
<rect x="417.61" y="1113.01" width="17.20" height="19.4" fill="#d3d1d3"/>
<rect x="435.70" y="1113.01" width="17.20" height="19.4" fill="#d3d1d3"/>
<rect x="453.79" y="1113.01" width="17.20" height="19.4" fill="#d3d1d3"/>
<rect x="471.88" y="1113.01" width="17.20" height="19.4" fill="#d3d1d3"/>
<rect x="489.97" y="1113.01" width="17.20" height="19.4" fill="#d3d1d3"/>
<rect x="508.06" y="1113.01" width="17.20" height="19.4" fill="#d3d1d3"/>
<rect x="526.15" y="1113.01" width="17.20" height="19.4" fill="#d3d1d3"/>
<rect x="544.24" y="1113.01" width="17.20" height="19.4" fill="#d3d1d3"/>
<rect x="562.33" y="1113.01" width="17.20" height="19.4" fill="#d3d1d3"/>
<rect x="580.42" y="1113.01" width="17.20" height="19.4" fill="#d3d1d3"/>
<rect x="598.51" y="1113.01" width="17.20" height="19.4" fill="#d3d1d3"/>
<rect x="616.60" y="1113.01" width="17.20" height="19.4" fill="#d3d1d3"/>
<rect x="634.69" y="1113.01" width="17.20" height="19.4" fill="#d3d1d3"/>
<rect x="652.78" y="1113.01" width="17.20" height="19.4" fill="#d3d1d3"/>
<rect x="670.87" y="1113.01" width="17.20" height="19.4" fill="#d3d1d3"/>
<rect x="688.96" y="1113.01" width="17.20" height="19.4" fill="#d3d1d3"/>
<rect x="707.05" y="1113.01" width="17.20" height="19.4" fill="#d3d1d3"/>
<rect x="725.14" y="1113.01" width="17.20" height="19.4" fill="#d3d1d3"/>
<rect x="743.23" y="1113.01" width="17.20" height="19.4" fill="#dc2a2c"/>
<rect x="761.32" y="1113.01" width="17.20" height="19.4" fill="#d3d1d3"/>
<rect x="779.41" y="1113.01" width="17.20" height="19.4" fill="#d3d1d3"/>
<rect x="797.50" y="1113.01" width="17.20" height="19.4" fill="#d3d1d3"/>
<rect x="815.59" y="1113.01" width="17.20" height="19.4" fill="#d3d1d3"/>
<rect x="833.68" y="1113.01" width="17.20" height="19.4" fill="#d3d1d3"/>
<rect x="851.77" y="1113.01" width="17.20" height="19.4" fill="#d3d1d3"/>
<rect x="869.86" y="1113.01" width="17.20" height="19.4" fill="#d3d1d3"/>
<rect x="887.95" y="1113.01" width="17.20" height="19.4" fill="#d3d1d3"/>
<rect x="906.04" y="1113.01" width="17.20" height="19.4" fill="#d3d1d3"/>
<rect x="924.13" y="1113.01" width="17.20" height="19.4" fill="#d3d1d3"/>
<rect x="942.22" y="1113.01" width="17.20" height="19.4" fill="#d3d1d3"/>
<rect x="960.31" y="1113.01" width="17.20" height="19.4" fill="#d3d1d3"/>
<rect x="978.40" y="1113.01" width="18.80" height="19.4" fill="#d3d1d3"/>
<rect x="254.80" y="1133.74" width="17.20" height="19.4" fill="#d3d1d3"/>
<rect x="272.89" y="1133.74" width="17.20" height="19.4" fill="#d3d1d3"/>
<rect x="290.98" y="1133.74" width="17.20" height="19.4" fill="#d3d1d3"/>
<rect x="309.07" y="1133.74" width="17.20" height="19.4" fill="#d3d1d3"/>
<rect x="327.16" y="1133.74" width="17.20" height="19.4" fill="#d3d1d3"/>
<rect x="345.25" y="1133.74" width="17.20" height="19.4" fill="#d3d1d3"/>
<rect x="363.34" y="1133.74" width="17.20" height="19.4" fill="#d3d1d3"/>
<rect x="381.43" y="1133.74" width="17.20" height="19.4" fill="#d3d1d3"/>
<rect x="399.52" y="1133.74" width="17.20" height="19.4" fill="#d3d1d3"/>
<rect x="417.61" y="1133.74" width="17.20" height="19.4" fill="#d3d1d3"/>
<rect x="435.70" y="1133.74" width="17.20" height="19.4" fill="#d3d1d3"/>
<rect x="453.79" y="1133.74" width="17.20" height="19.4" fill="#d3d1d3"/>
<rect x="471.88" y="1133.74" width="17.20" height="19.4" fill="#d3d1d3"/>
<rect x="489.97" y="1133.74" width="17.20" height="19.4" fill="#d3d1d3"/>
<rect x="508.06" y="1133.74" width="17.20" height="19.4" fill="#d3d1d3"/>
<rect x="526.15" y="1133.74" width="17.20" height="19.4" fill="#d3d1d3"/>
<rect x="544.24" y="1133.74" width="17.20" height="19.4" fill="#d3d1d3"/>
<rect x="562.33" y="1133.74" width="17.20" height="19.4" fill="#d3d1d3"/>
<rect x="580.42" y="1133.74" width="17.20" height="19.4" fill="#d3d1d3"/>
<rect x="598.51" y="1133.74" width="17.20" height="19.4" fill="#d3d1d3"/>
<rect x="616.60" y="1133.74" width="17.20" height="19.4" fill="#d3d1d3"/>
<rect x="634.69" y="1133.74" width="17.20" height="19.4" fill="#d3d1d3"/>
<rect x="652.78" y="1133.74" width="17.20" height="19.4" fill="#d3d1d3"/>
<rect x="670.87" y="1133.74" width="17.20" height="19.4" fill="#d3d1d3"/>
<rect x="688.96" y="1133.74" width="17.20" height="19.4" fill="#d3d1d3"/>
<rect x="707.05" y="1133.74" width="17.20" height="19.4" fill="#eddf27"/>
<rect x="725.14" y="1133.74" width="17.20" height="19.4" fill="#d3d1d3"/>
<rect x="743.23" y="1133.74" width="17.20" height="19.4" fill="#dc2a2c"/>
<rect x="761.32" y="1133.74" width="17.20" height="19.4" fill="#d3d1d3"/>
<rect x="779.41" y="1133.74" width="17.20" height="19.4" fill="#d3d1d3"/>
<rect x="797.50" y="1133.74" width="17.20" height="19.4" fill="#d3d1d3"/>
<rect x="815.59" y="1133.74" width="17.20" height="19.4" fill="#d3d1d3"/>
<rect x="833.68" y="1133.74" width="17.20" height="19.4" fill="#d3d1d3"/>
<rect x="851.77" y="1133.74" width="17.20" height="19.4" fill="#d3d1d3"/>
<rect x="869.86" y="1133.74" width="17.20" height="19.4" fill="#d3d1d3"/>
<rect x="887.95" y="1133.74" width="17.20" height="19.4" fill="#d3d1d3"/>
<rect x="906.04" y="1133.74" width="17.20" height="19.4" fill="#d3d1d3"/>
<rect x="924.13" y="1133.74" width="17.20" height="19.4" fill="#d3d1d3"/>
<rect x="942.22" y="1133.74" width="17.20" height="19.4" fill="#d3d1d3"/>
<rect x="960.31" y="1133.74" width="17.20" height="19.4" fill="#d3d1d3"/>
<rect x="978.40" y="1133.74" width="18.80" height="19.4" fill="#d3d1d3"/>
<rect x="254.80" y="1154.48" width="17.20" height="19.4" fill="#d3d1d3"/>
<rect x="272.89" y="1154.48" width="17.20" height="19.4" fill="#d3d1d3"/>
<rect x="290.98" y="1154.48" width="17.20" height="19.4" fill="#d3d1d3"/>
<rect x="309.07" y="1154.48" width="17.20" height="19.4" fill="#d3d1d3"/>
<rect x="327.16" y="1154.48" width="17.20" height="19.4" fill="#d3d1d3"/>
<rect x="345.25" y="1154.48" width="17.20" height="19.4" fill="#d3d1d3"/>
<rect x="363.34" y="1154.48" width="17.20" height="19.4" fill="#d3d1d3"/>
<rect x="381.43" y="1154.48" width="17.20" height="19.4" fill="#d3d1d3"/>
<rect x="399.52" y="1154.48" width="17.20" height="19.4" fill="#d3d1d3"/>
<rect x="417.61" y="1154.48" width="17.20" height="19.4" fill="#d3d1d3"/>
<rect x="435.70" y="1154.48" width="17.20" height="19.4" fill="#d3d1d3"/>
<rect x="453.79" y="1154.48" width="17.20" height="19.4" fill="#d3d1d3"/>
<rect x="471.88" y="1154.48" width="17.20" height="19.4" fill="#d3d1d3"/>
<rect x="489.97" y="1154.48" width="17.20" height="19.4" fill="#d3d1d3"/>
<rect x="508.06" y="1154.48" width="17.20" height="19.4" fill="#d3d1d3"/>
<rect x="526.15" y="1154.48" width="17.20" height="19.4" fill="#d3d1d3"/>
<rect x="544.24" y="1154.48" width="17.20" height="19.4" fill="#d3d1d3"/>
<rect x="562.33" y="1154.48" width="17.20" height="19.4" fill="#d3d1d3"/>
<rect x="580.42" y="1154.48" width="17.20" height="19.4" fill="#d3d1d3"/>
<rect x="598.51" y="1154.48" width="17.20" height="19.4" fill="#d3d1d3"/>
<rect x="616.60" y="1154.48" width="17.20" height="19.4" fill="#d3d1d3"/>
<rect x="634.69" y="1154.48" width="17.20" height="19.4" fill="#d3d1d3"/>
<rect x="652.78" y="1154.48" width="17.20" height="19.4" fill="#d3d1d3"/>
<rect x="670.87" y="1154.48" width="17.20" height="19.4" fill="#d3d1d3"/>
<rect x="688.96" y="1154.48" width="17.20" height="19.4" fill="#d3d1d3"/>
<rect x="707.05" y="1154.48" width="17.20" height="19.4" fill="#d3d1d3"/>
<rect x="725.14" y="1154.48" width="17.20" height="19.4" fill="#d3d1d3"/>
<rect x="743.23" y="1154.48" width="17.20" height="19.4" fill="#d3d1d3"/>
<rect x="761.32" y="1154.48" width="17.20" height="19.4" fill="#d3d1d3"/>
<rect x="779.41" y="1154.48" width="17.20" height="19.4" fill="#d3d1d3"/>
<rect x="797.50" y="1154.48" width="17.20" height="19.4" fill="#d3d1d3"/>
<rect x="815.59" y="1154.48" width="17.20" height="19.4" fill="#d3d1d3"/>
<rect x="833.68" y="1154.48" width="17.20" height="19.4" fill="#d3d1d3"/>
<rect x="851.77" y="1154.48" width="17.20" height="19.4" fill="#d3d1d3"/>
<rect x="869.86" y="1154.48" width="17.20" height="19.4" fill="#d3d1d3"/>
<rect x="887.95" y="1154.48" width="17.20" height="19.4" fill="#d3d1d3"/>
<rect x="906.04" y="1154.48" width="17.20" height="19.4" fill="#d3d1d3"/>
<rect x="924.13" y="1154.48" width="17.20" height="19.4" fill="#d3d1d3"/>
<rect x="942.22" y="1154.48" width="17.20" height="19.4" fill="#d3d1d3"/>
<rect x="960.31" y="1154.48" width="17.20" height="19.4" fill="#d3d1d3"/>
<rect x="978.40" y="1154.48" width="18.80" height="19.4" fill="#d3d1d3"/>
<rect x="254.80" y="1175.21" width="17.20" height="19.4" fill="#d3d1d3"/>
<rect x="272.89" y="1175.21" width="17.20" height="19.4" fill="#d3d1d3"/>
<rect x="290.98" y="1175.21" width="17.20" height="19.4" fill="#d3d1d3"/>
<rect x="309.07" y="1175.21" width="17.20" height="19.4" fill="#d3d1d3"/>
<rect x="327.16" y="1175.21" width="17.20" height="19.4" fill="#d3d1d3"/>
<rect x="345.25" y="1175.21" width="17.20" height="19.4" fill="#d3d1d3"/>
<rect x="363.34" y="1175.21" width="17.20" height="19.4" fill="#d3d1d3"/>
<rect x="381.43" y="1175.21" width="17.20" height="19.4" fill="#d3d1d3"/>
<rect x="399.52" y="1175.21" width="17.20" height="19.4" fill="#d3d1d3"/>
<rect x="417.61" y="1175.21" width="17.20" height="19.4" fill="#d3d1d3"/>
<rect x="435.70" y="1175.21" width="17.20" height="19.4" fill="#d3d1d3"/>
<rect x="453.79" y="1175.21" width="17.20" height="19.4" fill="#d3d1d3"/>
<rect x="471.88" y="1175.21" width="17.20" height="19.4" fill="#d3d1d3"/>
<rect x="489.97" y="1175.21" width="17.20" height="19.4" fill="#d3d1d3"/>
<rect x="508.06" y="1175.21" width="17.20" height="19.4" fill="#d3d1d3"/>
<rect x="526.15" y="1175.21" width="17.20" height="19.4" fill="#d3d1d3"/>
<rect x="544.24" y="1175.21" width="17.20" height="19.4" fill="#d3d1d3"/>
<rect x="562.33" y="1175.21" width="17.20" height="19.4" fill="#d3d1d3"/>
<rect x="580.42" y="1175.21" width="17.20" height="19.4" fill="#d3d1d3"/>
<rect x="598.51" y="1175.21" width="17.20" height="19.4" fill="#d3d1d3"/>
<rect x="616.60" y="1175.21" width="17.20" height="19.4" fill="#d3d1d3"/>
<rect x="634.69" y="1175.21" width="17.20" height="19.4" fill="#d3d1d3"/>
<rect x="652.78" y="1175.21" width="17.20" height="19.4" fill="#d3d1d3"/>
<rect x="670.87" y="1175.21" width="17.20" height="19.4" fill="#d3d1d3"/>
<rect x="688.96" y="1175.21" width="17.20" height="19.4" fill="#d3d1d3"/>
<rect x="707.05" y="1175.21" width="17.20" height="19.4" fill="#d3d1d3"/>
<rect x="725.14" y="1175.21" width="17.20" height="19.4" fill="#d3d1d3"/>
<rect x="743.23" y="1175.21" width="17.20" height="19.4" fill="#d3d1d3"/>
<rect x="761.32" y="1175.21" width="17.20" height="19.4" fill="#d3d1d3"/>
<rect x="779.41" y="1175.21" width="17.20" height="19.4" fill="#d3d1d3"/>
<rect x="797.50" y="1175.21" width="17.20" height="19.4" fill="#d3d1d3"/>
<rect x="815.59" y="1175.21" width="17.20" height="19.4" fill="#d3d1d3"/>
<rect x="833.68" y="1175.21" width="17.20" height="19.4" fill="#d3d1d3"/>
<rect x="851.77" y="1175.21" width="17.20" height="19.4" fill="#d3d1d3"/>
<rect x="869.86" y="1175.21" width="17.20" height="19.4" fill="#d3d1d3"/>
<rect x="887.95" y="1175.21" width="17.20" height="19.4" fill="#d3d1d3"/>
<rect x="906.04" y="1175.21" width="17.20" height="19.4" fill="#d3d1d3"/>
<rect x="924.13" y="1175.21" width="17.20" height="19.4" fill="#d3d1d3"/>
<rect x="942.22" y="1175.21" width="17.20" height="19.4" fill="#d3d1d3"/>
<rect x="960.31" y="1175.21" width="17.20" height="19.4" fill="#d3d1d3"/>
<rect x="978.40" y="1175.21" width="18.80" height="19.4" fill="#d3d1d3"/>
<line x1="8.610999999999999" y1="863.8" x2="999" y2="863.8" stroke="#2a2a2a" stroke-width="1.1" stroke-dasharray="1.1 4.261"/>
<line x1="7.811000000000001" y1="905.2" x2="999" y2="905.2" stroke="#2a2a2a" stroke-width="1.1" stroke-dasharray="1.1 4.261"/>
<line x1="7.710999999999999" y1="1029.6" x2="999" y2="1029.6" stroke="#2a2a2a" stroke-width="1.1" stroke-dasharray="1.1 4.261"/>
<line x1="7.710999999999999" y1="1050.4" x2="999" y2="1050.4" stroke="#2a2a2a" stroke-width="1.1" stroke-dasharray="1.1 4.261"/>
<g fill="none" stroke="#3c3a3b" stroke-width="1">
<rect x="30.3" y="696.3" width="149.2" height="500.2"/>
<rect x="179.5" y="695.5" width="73.5" height="501"/>
</g>
<rect x="253" y="695.5" width="744.5" height="501" fill="none" stroke="#3c3a3b" stroke-width="1.3"/>
<line x1="30.3" y1="693.2" x2="30.3" y2="696" stroke="#3c3a3b" stroke-width="1.1"/>
<line x1="67.6" y1="693.2" x2="67.6" y2="696" stroke="#3c3a3b" stroke-width="1.1"/>
<line x1="104.5" y1="693.2" x2="104.5" y2="696" stroke="#3c3a3b" stroke-width="1.1"/>
<line x1="141.6" y1="693.2" x2="141.6" y2="696" stroke="#3c3a3b" stroke-width="1.1"/>
<line x1="178.9" y1="693.2" x2="178.9" y2="696" stroke="#3c3a3b" stroke-width="1.1"/>
<text x="23.90" y="687.00" font-size="25.7" textLength="10.36" lengthAdjust="spacingAndGlyphs" fill="#231f20" stroke="#231f20" stroke-width="0.35">0</text>
<text x="55.20" y="687.00" font-size="25.7" textLength="22.69" lengthAdjust="spacingAndGlyphs" fill="#231f20" stroke="#231f20" stroke-width="0.35">50</text>
<text x="86.00" y="687.00" font-size="25.7" textLength="31.82" lengthAdjust="spacingAndGlyphs" fill="#231f20" stroke="#231f20" stroke-width="0.35">100</text>
<text x="124.80" y="687.00" font-size="25.7" textLength="30.67" lengthAdjust="spacingAndGlyphs" fill="#231f20" stroke="#231f20" stroke-width="0.35">150</text>
<circle cx="155.6" cy="708.7" r="5.9" fill="#231f20"/>
<circle cx="132" cy="729" r="5.9" fill="#231f20"/>
<circle cx="103.6" cy="749.1" r="5.9" fill="#231f20"/>
<circle cx="69.8" cy="769.4" r="5.9" fill="#231f20"/>
<circle cx="46.9" cy="791.5" r="5.9" fill="#231f20"/>
<circle cx="57.8" cy="811.6" r="5.9" fill="#231f20"/>
<circle cx="43.7" cy="831.3" r="5.9" fill="#231f20"/>
<circle cx="57.8" cy="853.5" r="5.9" fill="#231f20"/>
<circle cx="54.1" cy="874" r="5.9" fill="#231f20"/>
<circle cx="132" cy="894.6" r="5.9" fill="#231f20"/>
<circle cx="59.3" cy="913.8" r="5.9" fill="#231f20"/>
<circle cx="47.4" cy="935.2" r="5.9" fill="#231f20"/>
<circle cx="54.1" cy="956.9" r="5.9" fill="#231f20"/>
<circle cx="50" cy="977.7" r="5.9" fill="#231f20"/>
<circle cx="62.5" cy="997.8" r="5.9" fill="#231f20"/>
<circle cx="61.2" cy="1018.9" r="5.9" fill="#231f20"/>
<circle cx="58.8" cy="1039.7" r="5.9" fill="#231f20"/>
<circle cx="61.7" cy="1060.5" r="5.9" fill="#231f20"/>
<circle cx="56.2" cy="1081.3" r="5.9" fill="#231f20"/>
<circle cx="59.3" cy="1101.9" r="5.9" fill="#231f20"/>
<circle cx="63" cy="1122.7" r="5.9" fill="#231f20"/>
<circle cx="52.1" cy="1143.8" r="5.9" fill="#231f20"/>
<circle cx="53.4" cy="1163" r="5.9" fill="#231f20"/>
<circle cx="47.4" cy="1185.2" r="5.9" fill="#231f20"/>
<line x1="12.6" y1="704.3" x2="12.6" y2="844.5" stroke="#231f20" stroke-width="1.3"/>
<text x="0" y="0" transform="translate(18.80,1041.70) rotate(-90)" font-size="25.7" textLength="182.22" lengthAdjust="spacingAndGlyphs" fill="#231f20" stroke="#231f20" stroke-width="0.35">Increasing depth</text>
<line x1="11" y1="1053.1" x2="11" y2="1175" stroke="#3c3a3b" stroke-width="1.4"/>
<polygon points="0,1173.5 22,1173.5 11,1192.5" fill="#231f20"/>
<text x="0" y="0" transform="translate(209.10,725.20) rotate(90)" font-size="26.3" textLength="117.83" lengthAdjust="spacingAndGlyphs" fill="#231f20" stroke="#231f20" stroke-width="0.35">Upper oxic</text>
<text x="183.90" y="892.80" font-size="26.5" textLength="63.88" lengthAdjust="spacingAndGlyphs" fill="#231f20" stroke="#231f20" stroke-width="0.35">OATZ</text>
<text x="0" y="0" transform="translate(208.60,929.70) rotate(90)" font-size="26.3" textLength="73.68" lengthAdjust="spacingAndGlyphs" fill="#231f20" stroke="#231f20" stroke-width="0.35">Anoxic</text>
<text x="185.70" y="1048.50" font-size="25.5" textLength="65.02" lengthAdjust="spacingAndGlyphs" fill="#231f20" stroke="#231f20" stroke-width="0.35">AOTZ</text>
<text x="0" y="0" transform="translate(208.80,1065.60) rotate(90)" font-size="26.0" textLength="118.17" lengthAdjust="spacingAndGlyphs" fill="#231f20" stroke="#231f20" stroke-width="0.35">Lower oxic</text>
<rect x="282.20" y="1135.1" width="14.72" height="24.3" fill="#efe02c"/>
<rect x="296.62" y="1135.1" width="14.72" height="24.3" fill="#f1de28"/>
<rect x="311.04" y="1135.1" width="14.72" height="24.3" fill="#f4da20"/>
<rect x="325.46" y="1135.1" width="14.72" height="24.3" fill="#f7d418"/>
<rect x="339.88" y="1135.1" width="14.72" height="24.3" fill="#f8c91c"/>
<rect x="354.29" y="1135.1" width="14.72" height="24.3" fill="#f7bf20"/>
<rect x="368.71" y="1135.1" width="14.72" height="24.3" fill="#f6b424"/>
<rect x="383.13" y="1135.1" width="14.72" height="24.3" fill="#f5aa26"/>
<rect x="397.55" y="1135.1" width="14.72" height="24.3" fill="#f4a026"/>
<rect x="411.97" y="1135.1" width="14.72" height="24.3" fill="#f29628"/>
<rect x="426.39" y="1135.1" width="14.72" height="24.3" fill="#f08a28"/>
<rect x="440.81" y="1135.1" width="14.72" height="24.3" fill="#ee7e28"/>
<rect x="455.22" y="1135.1" width="14.72" height="24.3" fill="#ec7028"/>
<rect x="469.64" y="1135.1" width="14.72" height="24.3" fill="#e96028"/>
<rect x="484.06" y="1135.1" width="14.72" height="24.3" fill="#e54a28"/>
<rect x="498.48" y="1135.1" width="14.72" height="24.3" fill="#e03029"/>
<line x1="285.6" y1="1122.5" x2="490" y2="1122.5" stroke="#231f20" stroke-width="1.3"/>
<polygon points="488,1112 507.1,1122.5 488,1133" fill="#231f20"/>
<text x="299.80" y="1106.50" font-size="25.4" textLength="193.66" lengthAdjust="spacingAndGlyphs" fill="#231f20" stroke="#231f20" stroke-width="0.35">Increased abundance</text>
<text x="511.00" y="1230.00" font-size="26.0" textLength="237.89" lengthAdjust="spacingAndGlyphs" fill="#231f20" stroke="#231f20" stroke-width="0.35">Nitrosopumilales OTU</text>
</svg></body></html>
